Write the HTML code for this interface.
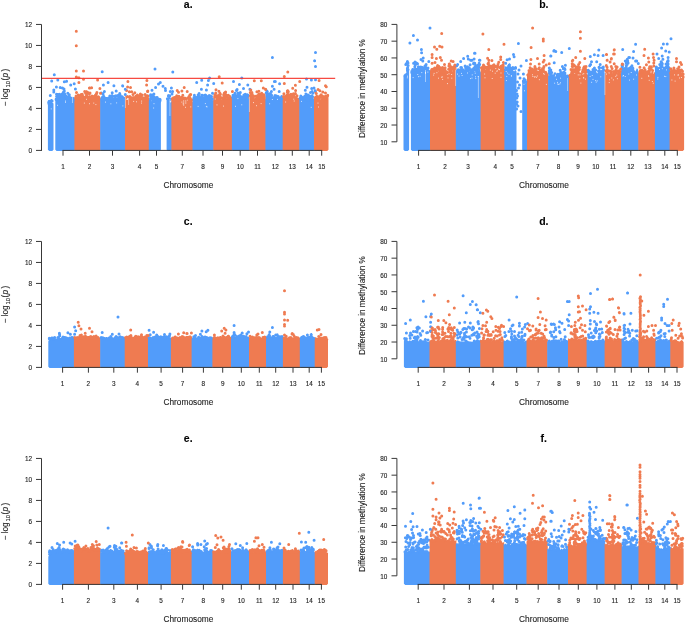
<!DOCTYPE html>
<html><head><meta charset="utf-8"><style>
html,body{margin:0;padding:0;background:#fff;}
svg{display:block;}
svg{will-change:transform;}
text{stroke:#1e1e1e;stroke-width:0.12px;}
</style></head><body>
<svg width="685" height="623" viewBox="0 0 685 623">
<path d="M49.2 150.9 L47.9 149.7 L47.9 102.3 L49.0 103.6 L50.1 104.5 L51.3 101.8 L52.4 102.4 L53.5 103.6 L53.5 149.7 L52.2 150.9Z" fill="#529cfa"/>
<path d="M56.6 150.9 L55.3 149.7 L55.3 100.7 L56.3 98.6 L57.4 97.7 L58.4 96.9 L59.4 96.7 L60.5 97.6 L61.5 96.5 L62.6 94.8 L63.6 93.7 L64.6 95.0 L65.7 96.4 L66.7 98.7 L67.7 97.6 L68.8 96.9 L69.8 97.3 L70.9 99.6 L71.9 100.6 L72.9 100.3 L74.0 98.5 L75.0 98.0 L75.0 149.7 L73.7 150.9Z" fill="#529cfa"/>
<path d="M75.7 150.9 L74.4 149.7 L74.4 96.9 L75.4 98.6 L76.4 97.5 L77.4 97.8 L78.5 98.3 L79.5 97.6 L80.5 98.3 L81.5 98.8 L82.5 96.8 L83.5 97.2 L84.6 98.9 L85.6 98.4 L86.6 98.1 L87.6 98.7 L88.6 98.1 L89.6 97.7 L90.6 97.6 L91.7 97.7 L92.7 97.8 L93.7 99.3 L94.7 98.4 L95.7 97.1 L96.7 97.5 L97.8 98.4 L98.8 97.4 L99.8 98.0 L100.8 97.8 L100.8 149.7 L99.5 150.9Z" fill="#ef7b51"/>
<path d="M101.5 150.9 L100.2 149.7 L100.2 98.4 L101.2 98.0 L102.2 99.8 L103.2 99.4 L104.3 97.0 L105.3 97.0 L106.3 99.4 L107.3 98.9 L108.3 98.1 L109.3 98.7 L110.4 98.7 L111.4 97.2 L112.4 97.8 L113.4 98.8 L114.4 98.7 L115.4 96.9 L116.5 98.2 L117.5 98.9 L118.5 97.1 L119.5 96.6 L120.5 97.3 L121.5 98.6 L122.6 99.3 L123.6 99.6 L124.6 98.9 L125.6 98.2 L125.6 149.7 L124.3 150.9Z" fill="#529cfa"/>
<path d="M126.3 150.9 L125.0 149.7 L125.0 98.2 L126.0 98.9 L127.0 99.9 L128.1 99.4 L129.1 98.5 L130.1 98.1 L131.1 98.1 L132.1 97.5 L133.1 98.2 L134.2 99.6 L135.2 98.5 L136.2 98.5 L137.2 98.0 L138.2 98.4 L139.2 98.8 L140.2 98.3 L141.3 98.1 L142.3 98.6 L143.3 99.9 L144.3 100.0 L145.3 98.5 L146.3 97.0 L147.4 96.6 L148.4 97.3 L149.4 98.8 L149.4 149.7 L148.1 150.9Z" fill="#ef7b51"/>
<path d="M150.1 150.9 L148.8 149.7 L148.8 100.9 L149.8 98.0 L150.8 99.0 L151.8 101.2 L152.8 100.4 L153.8 100.6 L154.9 100.9 L155.9 100.4 L156.9 98.7 L157.9 99.0 L158.9 99.8 L159.9 100.8 L160.9 99.2 L160.9 149.7 L159.6 150.9Z" fill="#529cfa"/>
<path d="M167.9 150.9 L166.6 149.7 L166.6 100.2 L167.7 99.9 L168.8 98.7 L169.8 101.4 L170.9 102.8 L172.0 100.1 L172.0 149.7 L170.7 150.9Z" fill="#529cfa"/>
<path d="M172.7 150.9 L171.4 149.7 L171.4 99.0 L172.4 99.9 L173.5 101.3 L174.5 101.1 L175.5 100.0 L176.6 98.9 L177.6 98.6 L178.6 100.4 L179.7 100.8 L180.7 99.9 L181.7 100.0 L182.8 99.8 L183.8 99.6 L184.8 98.8 L185.9 99.8 L186.9 100.6 L187.9 100.4 L189.0 99.2 L190.0 99.0 L191.0 100.3 L192.1 102.3 L193.1 100.8 L193.1 149.7 L191.8 150.9Z" fill="#ef7b51"/>
<path d="M193.8 150.9 L192.5 149.7 L192.5 98.0 L193.5 100.2 L194.5 99.9 L195.6 97.9 L196.6 98.7 L197.6 99.3 L198.6 98.2 L199.6 97.7 L200.7 97.6 L201.7 99.2 L202.7 99.5 L203.7 98.7 L204.7 98.2 L205.7 99.5 L206.8 99.9 L207.8 98.6 L208.8 98.9 L209.8 99.6 L210.8 99.1 L211.9 98.5 L212.9 100.6 L213.9 99.4 L213.9 149.7 L212.6 150.9Z" fill="#529cfa"/>
<path d="M214.6 150.9 L213.3 149.7 L213.3 98.2 L214.3 97.0 L215.3 96.8 L216.3 97.0 L217.3 97.8 L218.4 97.8 L219.4 96.7 L220.4 97.3 L221.4 99.3 L222.4 99.1 L223.4 97.2 L224.4 96.7 L225.4 96.2 L226.4 98.2 L227.4 98.9 L228.5 98.0 L229.5 97.6 L230.5 97.3 L231.5 97.3 L232.5 97.5 L232.5 149.7 L231.2 150.9Z" fill="#ef7b51"/>
<path d="M233.2 150.9 L231.9 149.7 L231.9 98.8 L233.0 97.0 L234.0 96.7 L235.1 97.4 L236.1 99.1 L237.2 97.8 L238.2 96.5 L239.3 95.9 L240.3 97.0 L241.4 96.9 L242.4 96.7 L243.5 98.8 L244.5 98.9 L245.6 95.8 L246.6 96.0 L247.7 98.1 L248.7 99.0 L249.8 98.1 L249.8 149.7 L248.5 150.9Z" fill="#529cfa"/>
<path d="M250.5 150.9 L249.2 149.7 L249.2 99.0 L250.2 98.2 L251.3 97.4 L252.3 95.6 L253.4 96.3 L254.4 98.2 L255.5 97.7 L256.6 97.2 L257.6 98.2 L258.6 98.2 L259.7 97.1 L260.8 95.3 L261.8 95.9 L262.9 97.3 L263.9 97.3 L264.9 97.9 L266.0 99.5 L266.0 149.7 L264.7 150.9Z" fill="#ef7b51"/>
<path d="M266.7 150.9 L265.4 149.7 L265.4 96.0 L266.5 95.9 L267.5 95.9 L268.6 96.3 L269.6 96.8 L270.7 96.9 L271.7 96.7 L272.8 97.7 L273.8 98.2 L274.9 97.0 L275.9 96.5 L277.0 96.8 L278.0 98.3 L279.1 99.5 L280.1 99.0 L281.2 98.4 L282.2 98.4 L283.3 97.2 L283.3 149.7 L282.0 150.9Z" fill="#529cfa"/>
<path d="M284.0 150.9 L282.7 149.7 L282.7 96.1 L283.7 97.7 L284.7 97.7 L285.7 97.6 L286.7 96.7 L287.8 95.3 L288.8 98.2 L289.8 97.9 L290.8 95.7 L291.8 97.2 L292.8 97.2 L293.8 96.9 L294.8 98.3 L295.9 96.5 L296.9 95.2 L297.9 97.9 L298.9 97.8 L299.9 96.0 L299.9 149.7 L298.6 150.9Z" fill="#ef7b51"/>
<path d="M300.6 150.9 L299.3 149.7 L299.3 96.8 L300.3 97.7 L301.3 98.8 L302.4 98.0 L303.4 99.2 L304.4 98.6 L305.4 97.8 L306.4 97.7 L307.5 99.4 L308.5 99.2 L309.5 98.2 L310.5 98.6 L311.5 98.9 L312.6 97.4 L313.6 98.3 L314.6 100.7 L314.6 149.7 L313.3 150.9Z" fill="#529cfa"/>
<path d="M315.3 150.9 L314.0 149.7 L314.0 99.1 L315.0 98.2 L316.1 97.0 L317.1 96.4 L318.1 98.0 L319.2 99.3 L320.2 99.6 L321.2 98.2 L322.3 97.6 L323.3 98.5 L324.4 99.2 L325.4 98.9 L326.4 96.7 L327.5 95.8 L328.5 98.2 L328.5 149.7 L327.2 150.9Z" fill="#ef7b51"/>
<path d="M48.9 103.6h0M51.5 101.1h0M52.1 101.0h0M48.7 102.3h0M49.4 103.6h0M50.5 103.7h0M49.5 104.3h0M51.5 100.4h0M50.1 103.3h0M51.4 100.5h0M50.6 102.9h0M49.3 104.2h0M49.2 101.3h0M50.2 104.4h0M52.0 100.8h0" stroke="#529cfa" stroke-width="3.00" stroke-linecap="round" fill="none"/>
<path d="M51.2 108.9h0" stroke="#ffffff" stroke-width="0.90" stroke-linecap="round" fill="none"/>
<path d="M57.3 96.7h0M56.2 99.0h0M69.3 94.7h0M64.3 91.0h0M64.0 88.9h0M66.8 98.3h0M66.0 96.1h0M65.5 96.4h0M68.3 97.8h0M61.3 96.8h0M60.8 97.2h0M69.3 95.0h0M56.6 96.6h0M57.5 94.4h0M63.2 92.8h0M69.4 97.9h0M61.2 95.0h0M57.8 95.1h0M71.7 100.1h0M71.5 100.3h0M68.5 96.6h0M63.4 94.7h0M63.3 95.0h0M70.9 98.1h0M60.5 97.1h0M66.5 97.4h0M62.1 94.1h0M59.5 94.3h0M64.7 94.0h0M66.5 96.6h0M56.2 99.0h0M62.6 94.4h0M69.8 97.3h0M72.8 98.3h0M64.7 94.9h0M56.1 99.6h0M64.2 93.0h0M71.3 98.9h0M63.3 92.6h0M72.6 100.2h0M70.4 99.4h0M58.1 94.7h0M63.7 91.7h0M56.5 94.2h0M71.1 100.4h0M73.0 100.1h0M68.1 97.2h0M57.0 97.7h0M59.4 96.3h0M69.3 97.9h0M67.8 93.3h0M66.6 97.8h0M72.9 100.0h0" stroke="#529cfa" stroke-width="3.00" stroke-linecap="round" fill="none"/>
<path d="M57.4 105.3h0M65.4 102.3h0M65.6 101.1h0" stroke="#ffffff" stroke-width="0.90" stroke-linecap="round" fill="none"/>
<path d="M93.7 96.4h0M85.1 98.7h0M91.6 87.7h0M85.6 93.2h0M76.1 96.8h0M80.1 96.3h0M90.0 93.1h0M87.9 92.6h0M83.1 97.3h0M86.5 94.2h0M92.3 97.6h0M81.2 98.4h0M86.6 92.1h0M81.8 98.9h0M96.9 92.6h0M93.9 99.5h0M81.5 98.7h0M97.3 98.7h0M78.3 97.9h0M94.3 98.8h0M99.0 97.7h0M79.8 95.9h0M82.3 94.3h0M81.1 94.5h0M83.7 97.0h0M84.5 98.9h0M87.8 97.2h0M79.0 97.8h0M88.6 97.7h0M98.8 97.3h0M89.4 94.1h0M98.7 98.3h0M84.6 98.6h0M97.4 99.0h0M79.3 96.6h0M98.4 96.8h0M82.5 95.6h0M78.3 95.1h0M79.7 97.4h0M76.5 98.3h0M75.6 97.8h0M86.5 95.9h0M89.8 98.0h0M88.9 98.5h0M79.0 97.9h0M91.0 98.8h0M98.4 98.6h0M79.9 98.3h0M91.7 97.7h0M86.5 96.8h0M76.1 96.1h0M87.3 97.6h0M94.2 99.3h0M86.6 95.3h0M89.8 97.0h0M90.2 98.1h0M80.9 98.7h0M85.3 99.1h0M98.0 97.7h0M96.3 96.2h0M92.0 96.0h0M96.3 97.9h0M88.9 96.9h0M78.9 98.5h0M79.8 96.5h0M93.9 98.3h0M86.1 96.5h0M81.3 97.8h0M98.5 97.8h0M87.1 97.1h0M95.5 95.1h0" stroke="#ef7b51" stroke-width="3.00" stroke-linecap="round" fill="none"/>
<path d="M95.9 104.6h0M84.3 103.1h0M86.5 99.3h0M89.4 103.7h0M93.8 103.1h0" stroke="#ffffff" stroke-width="0.90" stroke-linecap="round" fill="none"/>
<path d="M103.1 94.1h0M114.9 97.7h0M119.1 95.0h0M120.2 95.3h0M117.8 95.6h0M109.0 98.6h0M121.8 99.3h0M113.9 85.7h0M109.1 98.0h0M109.9 98.0h0M118.4 97.9h0M102.7 97.3h0M107.0 99.8h0M101.4 93.1h0M109.8 96.0h0M112.2 92.8h0M102.6 97.1h0M120.2 97.2h0M111.1 96.9h0M108.5 97.9h0M118.1 99.1h0M102.0 99.5h0M119.3 96.8h0M102.5 99.8h0M107.5 98.6h0M119.0 97.3h0M105.2 98.3h0M110.7 97.6h0M112.1 96.4h0M119.7 93.5h0M124.0 98.3h0M122.3 96.8h0M117.1 100.1h0M114.5 96.3h0M109.9 96.5h0M122.0 99.4h0M120.7 98.7h0M112.2 95.7h0M119.4 97.4h0M121.3 98.5h0M106.0 99.6h0M113.5 99.2h0M106.6 98.4h0M104.4 91.5h0M122.8 98.6h0M113.1 99.0h0M113.8 99.4h0M121.2 99.2h0M122.2 98.9h0M115.9 95.8h0M110.5 97.0h0M113.5 99.5h0M122.6 99.5h0M110.8 97.8h0M110.1 96.9h0M103.6 97.8h0M118.8 97.3h0M105.1 97.9h0M117.1 99.7h0M122.3 97.9h0M106.8 98.6h0M123.1 98.6h0M114.1 98.7h0M115.8 98.0h0M103.7 96.3h0M102.1 97.7h0M121.5 98.6h0M111.8 95.7h0" stroke="#529cfa" stroke-width="3.00" stroke-linecap="round" fill="none"/>
<path d="M122.9 105.9h0M110.9 103.8h0M116.7 102.9h0M105.5 102.1h0" stroke="#ffffff" stroke-width="0.90" stroke-linecap="round" fill="none"/>
<path d="M134.6 99.5h0M138.8 98.4h0M136.5 97.8h0M141.3 98.2h0M147.3 96.9h0M127.3 96.6h0M147.6 91.4h0M144.1 100.0h0M130.2 97.3h0M131.1 97.5h0M132.6 97.7h0M133.0 94.5h0M144.3 100.0h0M137.4 94.9h0M126.6 90.6h0M138.4 97.1h0M134.8 92.8h0M137.5 97.1h0M147.0 96.5h0M136.1 96.0h0M143.1 98.7h0M144.7 98.4h0M137.0 96.7h0M148.0 95.9h0M143.7 100.3h0M133.9 97.5h0M145.4 97.5h0M143.2 100.1h0M146.7 96.6h0M137.7 96.4h0M146.7 95.9h0M141.9 97.7h0M141.1 97.3h0M142.1 95.0h0M134.0 98.0h0M145.7 95.6h0M134.8 99.7h0M137.6 96.6h0M142.8 97.7h0M129.8 96.6h0M129.4 97.0h0M142.5 98.7h0M133.9 99.5h0M145.7 97.0h0M147.7 96.1h0M132.2 98.3h0M146.5 95.7h0M146.6 97.3h0M146.5 96.3h0M133.4 98.9h0M139.5 96.1h0M134.5 99.4h0M145.1 94.5h0M144.2 100.4h0M142.3 98.2h0M136.0 97.5h0M147.2 95.8h0M126.1 97.4h0M142.3 98.9h0M138.9 97.5h0M142.8 98.6h0M144.9 98.0h0M137.7 96.6h0M140.6 95.8h0M129.5 98.7h0M134.8 99.1h0" stroke="#ef7b51" stroke-width="3.00" stroke-linecap="round" fill="none"/>
<path d="M141.4 103.1h0M136.5 101.8h0M141.7 101.1h0M133.7 101.4h0" stroke="#ffffff" stroke-width="0.90" stroke-linecap="round" fill="none"/>
<path d="M154.2 97.0h0M155.2 99.8h0M158.3 99.1h0M159.8 99.2h0M150.6 94.8h0M152.0 90.2h0M156.8 99.3h0M159.7 100.3h0M159.6 101.5h0M152.7 100.0h0M153.1 99.7h0M150.7 96.2h0M152.8 98.8h0M156.7 97.5h0M160.1 100.6h0M155.2 100.5h0M157.1 98.0h0M160.1 99.6h0M150.6 98.7h0M159.6 100.7h0M151.1 97.1h0M154.9 100.9h0M153.4 96.3h0M154.1 100.1h0M150.7 97.0h0M153.2 100.5h0M156.4 97.7h0M150.5 95.6h0M158.4 100.1h0M157.2 97.6h0M159.6 100.5h0M154.5 101.2h0M153.5 99.1h0" stroke="#529cfa" stroke-width="3.00" stroke-linecap="round" fill="none"/>
<path d="M154.0 103.7h0M153.7 108.0h0" stroke="#ffffff" stroke-width="0.90" stroke-linecap="round" fill="none"/>
<path d="M167.4 98.8h0M169.8 95.8h0M170.3 91.5h0M168.0 99.4h0M169.5 98.6h0M168.0 99.4h0M169.6 99.6h0M169.5 100.1h0M169.6 99.2h0M169.2 98.9h0M168.5 95.5h0M168.4 96.0h0" stroke="#529cfa" stroke-width="3.00" stroke-linecap="round" fill="none"/>
<path d="M182.1 97.1h0M188.8 98.6h0M175.3 97.2h0M179.0 97.0h0M188.7 99.3h0M179.4 100.1h0M178.5 92.3h0M176.1 98.4h0M175.9 99.6h0M174.3 101.1h0M187.6 98.1h0M178.9 96.3h0M190.2 98.4h0M185.0 99.1h0M177.9 98.7h0M181.2 97.6h0M179.4 98.6h0M179.4 98.3h0M185.7 100.4h0M176.7 95.8h0M177.0 99.7h0M182.0 98.9h0M178.3 98.5h0M176.1 98.8h0M189.8 97.4h0M184.9 99.3h0M179.1 99.0h0M182.8 95.2h0M181.8 98.0h0M185.6 99.5h0M182.9 98.7h0M173.5 97.8h0M175.8 98.8h0M178.0 99.9h0M179.7 98.9h0M184.8 97.9h0M172.3 98.9h0M191.7 99.7h0M173.6 100.5h0M181.4 98.3h0M175.1 99.1h0M179.8 98.9h0M178.3 99.3h0M191.2 100.9h0M190.7 99.3h0M172.4 98.5h0M189.8 97.7h0M189.0 96.6h0M182.2 99.2h0M173.5 100.7h0M172.3 99.3h0M180.0 100.3h0M174.3 100.4h0M189.3 98.6h0M189.9 95.1h0M188.8 99.3h0M179.2 100.3h0M177.0 97.1h0" stroke="#ef7b51" stroke-width="3.00" stroke-linecap="round" fill="none"/>
<path d="M190.8 106.9h0M181.9 102.1h0M185.5 107.3h0M183.1 103.9h0" stroke="#ffffff" stroke-width="0.90" stroke-linecap="round" fill="none"/>
<path d="M198.7 95.1h0M194.4 95.2h0M198.2 97.7h0M209.2 98.4h0M206.4 90.1h0M205.4 97.4h0M196.7 82.6h0M199.1 93.5h0M203.9 99.1h0M200.8 97.7h0M205.1 97.5h0M203.6 97.8h0M198.1 94.9h0M202.6 95.2h0M210.5 96.1h0M205.8 95.7h0M196.3 98.5h0M206.1 95.8h0M206.1 98.9h0M211.5 96.5h0M209.8 97.1h0M203.4 99.9h0M205.5 96.1h0M198.0 97.1h0M203.7 98.9h0M193.9 99.0h0M194.0 97.4h0M195.7 97.8h0M207.0 99.4h0M200.0 97.4h0M196.6 97.5h0M194.0 99.9h0M202.1 98.6h0M208.5 96.2h0M201.9 99.2h0M212.3 98.9h0M197.9 97.4h0M195.9 97.9h0M201.4 97.4h0M206.7 98.4h0M195.3 98.0h0M202.6 99.4h0M209.2 95.6h0M211.1 98.9h0M201.7 95.3h0M196.6 98.9h0M197.4 99.6h0M208.9 96.5h0M199.5 97.7h0M194.8 98.7h0M208.6 98.1h0M200.9 98.4h0M202.5 97.3h0M198.5 99.6h0M207.8 98.0h0M202.6 98.1h0M209.2 97.4h0" stroke="#529cfa" stroke-width="3.00" stroke-linecap="round" fill="none"/>
<path d="M205.3 103.6h0M198.1 106.4h0M207.0 106.9h0M206.3 106.4h0" stroke="#ffffff" stroke-width="0.90" stroke-linecap="round" fill="none"/>
<path d="M223.6 97.7h0M230.5 97.5h0M225.0 96.2h0M220.3 93.9h0M229.9 97.0h0M217.5 98.3h0M222.5 98.3h0M214.6 97.1h0M223.7 94.4h0M225.2 92.9h0M218.9 96.7h0M226.0 95.1h0M224.2 96.8h0M215.8 93.4h0M216.2 96.0h0M223.8 95.7h0M226.5 96.1h0M218.8 97.1h0M225.7 97.3h0M219.9 93.3h0M217.7 97.5h0M227.8 98.2h0M214.8 94.8h0M219.5 95.5h0M218.7 97.2h0M217.4 96.3h0M229.7 96.5h0M220.0 96.3h0M228.2 95.3h0M217.7 98.3h0M214.8 96.3h0M216.9 97.7h0M219.0 96.6h0M229.6 96.2h0M224.0 96.8h0M230.6 97.7h0M215.8 96.5h0M216.9 98.6h0M220.4 94.2h0M218.0 96.7h0M223.0 98.4h0M224.4 93.1h0M225.7 96.5h0M222.7 98.1h0M220.7 97.6h0M215.7 92.9h0M219.2 96.8h0M215.6 95.6h0M215.4 96.4h0M224.1 94.8h0M218.2 95.4h0" stroke="#ef7b51" stroke-width="3.00" stroke-linecap="round" fill="none"/>
<path d="M217.0 104.9h0M223.4 106.1h0M215.2 99.0h0" stroke="#ffffff" stroke-width="0.90" stroke-linecap="round" fill="none"/>
<path d="M238.7 93.5h0M244.1 97.7h0M235.3 98.7h0M237.3 98.6h0M234.8 95.3h0M240.3 92.4h0M234.7 97.1h0M234.7 95.9h0M234.9 93.3h0M241.8 78.0h0M237.1 89.5h0M237.9 93.0h0M245.9 95.3h0M237.7 95.3h0M240.6 98.0h0M242.8 98.3h0M244.3 99.1h0M237.2 96.1h0M235.4 98.6h0M245.2 97.0h0M247.7 96.5h0M246.9 96.1h0M243.7 96.1h0M241.3 96.7h0M238.9 95.3h0M237.7 96.9h0M235.0 94.7h0M234.2 94.9h0M234.6 95.8h0M245.3 94.3h0M243.9 95.0h0M248.4 97.6h0M240.3 96.5h0M247.0 97.1h0M239.5 97.1h0M242.8 97.1h0M237.3 97.1h0M244.7 98.2h0M245.7 96.2h0M235.2 97.7h0M242.9 97.7h0M239.5 94.9h0M233.0 95.2h0M232.7 97.3h0M247.3 94.8h0M232.9 97.5h0M247.7 94.9h0" stroke="#529cfa" stroke-width="3.00" stroke-linecap="round" fill="none"/>
<path d="M237.9 98.6h0M241.8 104.8h0M235.4 106.3h0" stroke="#ffffff" stroke-width="0.90" stroke-linecap="round" fill="none"/>
<path d="M258.2 95.5h0M250.3 92.6h0M259.2 95.4h0M262.3 96.4h0M261.7 93.2h0M251.9 92.6h0M258.7 94.2h0M262.1 94.1h0M258.9 91.2h0M252.6 95.5h0M259.5 94.6h0M264.1 94.7h0M257.9 98.7h0M253.5 96.7h0M264.3 97.8h0M257.6 96.7h0M250.9 97.2h0M253.6 96.6h0M256.9 96.0h0M252.1 94.1h0M250.0 97.8h0M253.2 96.6h0M260.6 93.9h0M264.2 95.8h0M254.0 96.5h0M253.6 97.0h0M253.9 96.8h0M260.0 95.3h0M264.3 97.9h0M253.5 96.8h0M263.5 96.6h0M253.3 95.8h0M251.0 93.7h0M261.3 95.3h0M258.3 98.4h0M257.5 97.9h0M253.2 96.1h0M258.6 97.0h0M251.8 96.3h0M261.2 96.0h0M263.5 96.9h0M255.8 96.3h0M257.0 97.9h0M250.4 95.4h0" stroke="#ef7b51" stroke-width="3.00" stroke-linecap="round" fill="none"/>
<path d="M261.1 103.6h0M253.4 102.6h0M256.5 105.7h0" stroke="#ffffff" stroke-width="0.90" stroke-linecap="round" fill="none"/>
<path d="M272.4 86.3h0M277.3 97.0h0M275.0 97.2h0M266.9 90.9h0M281.7 96.4h0M276.2 95.9h0M267.6 95.2h0M267.3 91.7h0M268.7 94.6h0M267.0 95.5h0M271.6 95.3h0M270.8 94.4h0M275.7 96.2h0M275.0 95.6h0M278.9 98.6h0M280.9 97.7h0M281.0 97.6h0M277.2 96.7h0M266.9 95.6h0M270.2 93.6h0M279.1 97.9h0M273.8 98.5h0M280.9 97.7h0M269.9 94.8h0M274.7 96.5h0M270.2 96.4h0M279.0 98.8h0M266.8 94.3h0M270.5 94.8h0M269.0 95.0h0M281.7 98.6h0M275.1 97.2h0M274.8 96.3h0M272.8 98.5h0M272.5 97.7h0M276.6 95.9h0M281.1 98.7h0M267.8 95.5h0M269.3 94.9h0M279.9 98.9h0M273.6 98.3h0M278.2 96.6h0M279.9 99.7h0M266.3 92.7h0M267.9 93.7h0M270.9 94.2h0M274.9 96.6h0" stroke="#529cfa" stroke-width="3.00" stroke-linecap="round" fill="none"/>
<path d="M269.7 103.8h0M277.4 99.4h0M272.3 99.5h0" stroke="#ffffff" stroke-width="0.90" stroke-linecap="round" fill="none"/>
<path d="M285.8 98.1h0M283.8 96.3h0M291.2 95.6h0M288.7 96.0h0M286.8 96.1h0M291.8 95.7h0M295.4 93.6h0M293.7 95.1h0M287.9 92.4h0M294.5 97.8h0M286.6 96.0h0M288.6 96.8h0M288.9 97.1h0M283.9 93.7h0M284.9 97.6h0M294.0 96.2h0M287.3 92.3h0M292.7 97.0h0M292.8 97.3h0M286.3 96.1h0M292.5 95.7h0M293.4 93.8h0M292.7 97.8h0M289.7 95.6h0M287.2 96.5h0M288.2 95.0h0M291.0 94.3h0M292.9 97.1h0M284.6 96.6h0M293.7 94.2h0M293.6 97.4h0M289.6 97.5h0M289.7 96.4h0M294.6 98.5h0M285.0 98.0h0M295.5 98.1h0M297.0 95.7h0M288.6 97.3h0M294.5 98.6h0M288.3 91.8h0M287.4 90.9h0M287.0 95.1h0M283.6 96.8h0M289.1 97.7h0M287.8 93.5h0M289.1 95.1h0" stroke="#ef7b51" stroke-width="3.00" stroke-linecap="round" fill="none"/>
<path d="M293.8 99.2h0M294.2 101.0h0M285.7 102.0h0" stroke="#ffffff" stroke-width="0.90" stroke-linecap="round" fill="none"/>
<path d="M306.9 97.4h0M304.0 97.7h0M305.9 96.6h0M300.7 98.8h0M312.1 91.6h0M309.0 98.7h0M307.3 94.9h0M310.5 98.2h0M313.1 93.1h0M308.1 95.0h0M300.9 99.1h0M308.9 98.4h0M309.2 96.9h0M311.6 98.8h0M312.6 96.8h0M306.0 96.6h0M306.7 98.2h0M302.9 97.7h0M300.4 98.2h0M301.7 96.9h0M308.0 100.1h0M305.7 95.9h0M311.7 97.6h0M300.8 96.0h0M305.9 93.9h0M311.9 95.8h0M309.1 98.5h0M302.6 98.2h0M304.8 98.8h0M311.8 97.2h0M310.9 98.1h0M300.1 98.5h0M309.6 97.6h0M309.0 96.8h0M304.5 96.6h0M306.2 96.4h0M309.2 95.7h0M310.4 97.8h0M304.1 98.3h0M303.6 98.7h0" stroke="#529cfa" stroke-width="3.00" stroke-linecap="round" fill="none"/>
<path d="M301.4 101.4h0M311.2 107.3h0" stroke="#ffffff" stroke-width="0.90" stroke-linecap="round" fill="none"/>
<path d="M315.4 91.4h0M316.1 97.4h0M315.9 98.4h0M319.7 96.0h0M325.3 96.7h0M325.5 98.3h0M316.3 93.4h0M325.4 97.6h0M316.8 96.2h0M322.7 96.3h0M320.1 96.2h0M325.3 97.8h0M315.6 98.6h0M322.4 96.8h0M315.4 97.6h0M317.8 98.1h0M326.7 96.2h0M317.0 97.7h0M323.7 99.0h0M327.7 95.3h0M321.4 97.0h0M321.3 95.9h0M325.0 99.2h0M315.2 98.6h0M321.2 95.1h0M327.5 96.3h0M316.9 97.8h0M316.1 96.9h0M325.3 97.7h0M325.4 96.2h0M319.2 98.4h0M322.8 96.6h0M318.5 98.7h0M321.3 97.2h0M315.9 98.2h0M324.8 99.7h0M315.3 97.4h0M325.1 99.1h0M324.3 98.8h0M321.1 94.8h0" stroke="#ef7b51" stroke-width="3.00" stroke-linecap="round" fill="none"/>
<path d="M318.0 103.1h0M318.6 107.0h0" stroke="#ffffff" stroke-width="0.90" stroke-linecap="round" fill="none"/>
<path d="M72.5 96.0V103.0M125.4 97.0V108.0M128.6 98.0V105.0M169.9 99.0V116.0M183.7 100.0V106.0M185.8 100.0V104.0M249.4 97.0V112.0" stroke="#fff" stroke-width="0.7" stroke-opacity="0.65"/>
<path d="M54.3 74.8h0M51.7 81.0h0M57.8 80.1h0M64.3 81.8h0M66.6 81.3h0M70.7 84.9h0M74.2 83.7h0M56.4 86.9h0M60.2 87.4h0M62.5 88.0h0M53.8 90.1h0M53.8 92.1h0M75.4 89.0h0M50.3 95.6h0M50.3 102.0h0M102.2 71.7h0M108.1 82.5h0M103.4 85.1h0M122.7 85.9h0M116.2 91.0h0M155.0 69.1h0M172.8 72.0h0M122.6 85.7h0M125.3 89.2h0M125.3 94.5h0M158.5 83.9h0M160.3 82.4h0M155.6 87.4h0M163.0 86.3h0M165.3 88.6h0M165.5 90.6h0M171.4 88.0h0M172.6 91.5h0M172.0 93.9h0M153.9 93.9h0M152.1 95.0h0M201.7 80.2h0M209.6 77.9h0M208.4 80.4h0M207.6 84.9h0M213.7 83.4h0M201.4 89.2h0M233.5 81.6h0M239.4 84.5h0M247.8 85.1h0M243.5 88.4h0M236.5 90.6h0M249.9 89.2h0M274.4 81.6h0M205.3 95.0h0M212.5 93.3h0M272.4 57.5h0M315.5 52.5h0M314.6 60.7h0M315.5 66.6h0M275.3 81.5h0M279.6 83.8h0M306.5 79.1h0M311.4 80.1h0M315.5 79.7h0M279.2 91.4h0M274.1 89.3h0M271.4 91.4h0M307.0 87.3h0M305.3 90.2h0M311.7 88.5h0M314.0 87.9h0M315.2 90.8h0M310.5 92.6h0M267.9 97.8h0" stroke="#529cfa" stroke-width="3.00" stroke-linecap="round" fill="none"/>
<path d="M76.3 31.3h0M76.3 45.7h0M76.3 70.9h0M83.5 71.1h0M76.3 76.9h0M78.9 77.8h0M83.5 79.3h0M78.9 82.5h0M97.6 80.1h0M89.4 88.0h0M99.9 88.6h0M100.5 93.3h0M76.5 92.5h0M84.7 91.5h0M86.5 91.8h0M96.4 93.9h0M89.8 87.9h0M127.9 81.6h0M146.9 80.4h0M146.6 85.1h0M127.6 87.1h0M130.5 87.4h0M147.8 91.0h0M129.3 91.8h0M131.7 91.8h0M140.4 93.9h0M184.2 87.4h0M177.2 90.6h0M187.2 91.5h0M190.7 94.5h0M181.9 91.0h0M219.2 76.7h0M222.2 83.0h0M216.0 89.8h0M218.9 91.3h0M225.6 92.1h0M232.4 91.5h0M254.3 80.8h0M261.3 80.8h0M250.8 90.1h0M263.3 88.0h0M265.7 89.2h0M256.9 91.8h0M287.8 71.9h0M284.3 76.4h0M284.3 83.6h0M299.7 81.5h0M295.4 85.3h0M292.7 88.2h0M287.8 90.8h0M295.6 90.5h0M319.1 80.6h0M325.5 85.8h0M326.3 86.7h0M318.1 89.6h0M319.9 90.8h0M322.8 92.0h0M325.5 93.1h0M265.6 89.6h0" stroke="#ef7b51" stroke-width="3.00" stroke-linecap="round" fill="none"/>
<path d="M41.2 78.4 H335.2" stroke="#f53b32" stroke-width="1.2" stroke-opacity="0.92"/>
<g stroke="#383838" stroke-width="1.0" fill="none">
<path d="M41.5 24.45 V150.90"/>
<path d="M36 150.40 H41.5"/>
<path d="M36 129.41 H41.5"/>
<path d="M36 108.42 H41.5"/>
<path d="M36 87.43 H41.5"/>
<path d="M36 66.43 H41.5"/>
<path d="M36 45.44 H41.5"/>
<path d="M36 24.45 H41.5"/>
<path d="M62.5 150.40 H322.2"/>
<path d="M63.0 150.40 V155.70"/>
<path d="M89.5 150.40 V155.70"/>
<path d="M112.5 150.40 V155.70"/>
<path d="M139.6 150.40 V155.70"/>
<path d="M156.5 150.40 V155.70"/>
<path d="M182.3 150.40 V155.70"/>
<path d="M203.0 150.40 V155.70"/>
<path d="M222.5 150.40 V155.70"/>
<path d="M240.2 150.40 V155.70"/>
<path d="M257.5 150.40 V155.70"/>
<path d="M275.2 150.40 V155.70"/>
<path d="M292.3 150.40 V155.70"/>
<path d="M309.2 150.40 V155.70"/>
<path d="M321.7 150.40 V155.70"/>
</g>
<g font-family="Liberation Sans, sans-serif" font-size="6.4" fill="#1e1e1e" text-anchor="end">
<text x="32.0" y="153.30">0</text>
<text x="32.0" y="132.31">2</text>
<text x="32.0" y="111.32">4</text>
<text x="32.0" y="90.33">6</text>
<text x="32.0" y="69.33">8</text>
<text x="32.0" y="48.34">10</text>
<text x="32.0" y="27.35">12</text>
</g>
<g font-family="Liberation Sans, sans-serif" font-size="6.4" fill="#1e1e1e" text-anchor="middle">
<text x="63.0" y="168.80">1</text>
<text x="89.5" y="168.80">2</text>
<text x="112.5" y="168.80">3</text>
<text x="139.6" y="168.80">4</text>
<text x="156.5" y="168.80">5</text>
<text x="182.3" y="168.80">7</text>
<text x="203.0" y="168.80">8</text>
<text x="222.5" y="168.80">9</text>
<text x="240.2" y="168.80">10</text>
<text x="257.5" y="168.80">11</text>
<text x="275.2" y="168.80">12</text>
<text x="292.3" y="168.80">13</text>
<text x="309.2" y="168.80">14</text>
<text x="321.7" y="168.80">15</text>
</g>
<text x="188.4" y="188.3" font-family="Liberation Sans, sans-serif" font-size="8.3" fill="#1e1e1e" text-anchor="middle">Chromosome</text>
<g transform="translate(7.9 0.0) rotate(-90)" font-family="Liberation Sans, sans-serif" font-size="8.3" fill="#1e1e1e">
<text x="-106.1" y="0">−</text>
<text x="-99.4" y="0">log</text>
<text x="-87.6" y="1.9" font-size="5.9">10</text>
<text x="-80.4" y="0">(</text>
<text x="-77.4" y="0" font-style="italic">p</text>
<text x="-71.6" y="0">)</text>
</g>
<text x="188.2" y="8.1" font-family="Liberation Sans, sans-serif" font-weight="bold" font-size="10.5" fill="#000" text-anchor="middle">a.</text>
<path d="M404.8 150.9 L403.5 149.7 L403.5 74.6 L404.6 76.1 L405.7 73.9 L406.9 71.0 L408.0 69.5 L409.1 69.4 L409.1 149.7 L407.8 150.9Z" fill="#529cfa"/>
<path d="M412.2 150.9 L410.9 149.7 L410.9 72.1 L411.9 72.8 L413.0 69.3 L414.0 69.4 L415.0 71.0 L416.1 70.5 L417.1 68.0 L418.2 70.0 L419.2 69.8 L420.2 69.8 L421.3 68.3 L422.3 69.1 L423.3 69.6 L424.4 70.7 L425.4 70.9 L426.5 69.4 L427.5 70.2 L428.5 72.0 L429.6 70.1 L430.6 69.7 L430.6 149.7 L429.3 150.9Z" fill="#529cfa"/>
<path d="M431.3 150.9 L430.0 149.7 L430.0 67.9 L431.0 70.9 L432.0 70.1 L433.0 68.6 L434.1 69.0 L435.1 69.1 L436.1 67.9 L437.1 67.7 L438.1 71.0 L439.1 72.4 L440.2 72.6 L441.2 70.8 L442.2 72.8 L443.2 71.9 L444.2 69.4 L445.2 69.1 L446.2 74.5 L447.3 76.8 L448.3 72.5 L449.3 67.8 L450.3 68.6 L451.3 71.0 L452.3 71.5 L453.4 68.0 L454.4 68.1 L455.4 69.4 L456.4 67.4 L456.4 149.7 L455.1 150.9Z" fill="#ef7b51"/>
<path d="M457.1 150.9 L455.8 149.7 L455.8 70.7 L456.8 69.3 L457.8 68.7 L458.8 74.7 L459.9 74.4 L460.9 68.9 L461.9 69.5 L462.9 70.9 L463.9 71.7 L464.9 73.1 L466.0 70.9 L467.0 68.9 L468.0 72.3 L469.0 72.2 L470.0 70.0 L471.0 71.0 L472.1 71.6 L473.1 70.0 L474.1 71.2 L475.1 71.4 L476.1 72.1 L477.1 73.3 L478.2 71.2 L479.2 67.3 L480.2 71.1 L481.2 72.9 L481.2 149.7 L479.9 150.9Z" fill="#529cfa"/>
<path d="M481.9 150.9 L480.6 149.7 L480.6 68.5 L481.6 66.9 L482.6 67.7 L483.7 68.1 L484.7 68.3 L485.7 69.9 L486.7 70.0 L487.7 68.5 L488.7 65.3 L489.8 66.8 L490.8 69.5 L491.8 70.7 L492.8 68.9 L493.8 65.7 L494.8 67.8 L495.9 69.2 L496.9 67.7 L497.9 66.5 L498.9 69.4 L499.9 72.3 L500.9 69.9 L502.0 67.2 L503.0 66.4 L504.0 67.7 L505.0 69.1 L505.0 149.7 L503.7 150.9Z" fill="#ef7b51"/>
<path d="M505.7 150.9 L504.4 149.7 L504.4 72.5 L505.4 74.4 L506.4 73.7 L507.4 70.2 L508.4 67.2 L509.4 67.8 L510.5 69.9 L511.5 71.9 L512.5 73.4 L513.5 72.6 L514.5 70.8 L515.5 70.1 L516.5 71.5 L516.5 149.7 L515.2 150.9Z" fill="#529cfa"/>
<path d="M523.5 150.9 L522.2 149.7 L522.2 79.5 L523.3 80.7 L524.4 82.5 L525.4 83.4 L526.5 80.7 L527.6 81.4 L527.6 149.7 L526.3 150.9Z" fill="#529cfa"/>
<path d="M528.3 150.9 L527.0 149.7 L527.0 71.9 L528.0 75.4 L529.1 75.7 L530.1 71.8 L531.1 69.2 L532.2 69.5 L533.2 71.9 L534.2 72.7 L535.3 71.1 L536.3 71.1 L537.3 71.7 L538.4 73.1 L539.4 73.0 L540.4 73.1 L541.5 73.2 L542.5 71.7 L543.5 70.7 L544.6 70.3 L545.6 73.5 L546.6 75.1 L547.7 72.6 L548.7 68.9 L548.7 149.7 L547.4 150.9Z" fill="#ef7b51"/>
<path d="M549.4 150.9 L548.1 149.7 L548.1 75.6 L549.1 75.4 L550.1 73.0 L551.2 73.7 L552.2 75.3 L553.2 77.4 L554.2 77.4 L555.2 75.0 L556.3 73.8 L557.3 74.4 L558.3 75.5 L559.3 76.1 L560.3 74.4 L561.3 73.8 L562.4 74.4 L563.4 74.6 L564.4 73.7 L565.4 73.8 L566.4 76.4 L567.5 77.8 L568.5 76.9 L569.5 72.9 L569.5 149.7 L568.2 150.9Z" fill="#529cfa"/>
<path d="M570.2 150.9 L568.9 149.7 L568.9 74.5 L569.9 74.4 L570.9 69.8 L571.9 68.8 L572.9 70.2 L574.0 72.9 L575.0 74.1 L576.0 74.8 L577.0 72.6 L578.0 69.1 L579.0 69.0 L580.0 73.3 L581.0 76.6 L582.0 72.9 L583.0 70.1 L584.1 70.3 L585.1 70.0 L586.1 71.8 L587.1 74.5 L588.1 74.6 L588.1 149.7 L586.8 150.9Z" fill="#ef7b51"/>
<path d="M588.8 150.9 L587.5 149.7 L587.5 72.5 L588.6 71.9 L589.6 73.2 L590.7 74.3 L591.7 74.3 L592.8 73.4 L593.8 72.2 L594.9 73.5 L595.9 74.2 L597.0 74.6 L598.0 74.4 L599.1 73.8 L600.1 72.4 L601.2 72.6 L602.2 72.6 L603.3 72.6 L604.3 73.7 L605.4 73.6 L605.4 149.7 L604.1 150.9Z" fill="#529cfa"/>
<path d="M606.1 150.9 L604.8 149.7 L604.8 74.0 L605.8 71.0 L606.9 69.4 L607.9 72.7 L609.0 76.2 L610.0 72.5 L611.1 69.3 L612.1 71.0 L613.2 74.5 L614.2 74.3 L615.3 70.7 L616.4 70.3 L617.4 72.6 L618.5 74.7 L619.5 74.5 L620.6 72.2 L621.6 71.3 L621.6 149.7 L620.3 150.9Z" fill="#ef7b51"/>
<path d="M622.3 150.9 L621.0 149.7 L621.0 70.8 L622.1 67.2 L623.1 68.1 L624.2 72.2 L625.2 72.2 L626.3 66.9 L627.3 68.3 L628.4 71.8 L629.4 72.7 L630.5 70.1 L631.5 68.5 L632.6 68.6 L633.6 70.2 L634.7 72.3 L635.7 71.0 L636.8 68.2 L637.8 69.0 L638.9 73.5 L638.9 149.7 L637.6 150.9Z" fill="#529cfa"/>
<path d="M639.6 150.9 L638.3 149.7 L638.3 72.6 L639.3 73.0 L640.3 71.8 L641.3 70.6 L642.3 71.6 L643.4 72.3 L644.4 70.1 L645.4 70.8 L646.4 73.8 L647.4 72.2 L648.4 72.1 L649.4 72.3 L650.4 68.3 L651.5 69.8 L652.5 74.4 L653.5 73.9 L654.5 72.0 L655.5 72.4 L655.5 149.7 L654.2 150.9Z" fill="#ef7b51"/>
<path d="M656.2 150.9 L654.9 149.7 L654.9 65.6 L655.9 66.6 L656.9 68.3 L658.0 69.9 L659.0 67.6 L660.0 64.4 L661.0 63.6 L662.0 65.2 L663.1 69.0 L664.1 70.6 L665.1 69.5 L666.1 66.7 L667.1 63.8 L668.2 63.8 L669.2 65.7 L670.2 67.4 L670.2 149.7 L668.9 150.9Z" fill="#529cfa"/>
<path d="M670.9 150.9 L669.6 149.7 L669.6 72.6 L670.6 72.6 L671.7 72.6 L672.7 71.9 L673.7 69.9 L674.8 72.0 L675.8 74.4 L676.9 74.4 L677.9 72.1 L678.9 71.0 L680.0 69.7 L681.0 69.9 L682.0 73.8 L683.1 77.3 L684.1 73.7 L684.1 149.7 L682.8 150.9Z" fill="#ef7b51"/>
<path d="M405.5 75.0h0M407.6 67.5h0M407.4 68.6h0M408.0 63.0h0M406.5 63.4h0M405.4 75.2h0M408.1 65.4h0M407.5 70.5h0M405.3 75.9h0M407.4 69.1h0M405.2 76.5h0M408.0 69.5h0M405.6 75.0h0" stroke="#529cfa" stroke-width="3.00" stroke-linecap="round" fill="none"/>
<path d="M407.4 76.2h0M407.3 77.8h0" stroke="#ffffff" stroke-width="0.90" stroke-linecap="round" fill="none"/>
<path d="M420.4 67.5h0M426.1 64.6h0M425.6 68.7h0M428.4 71.0h0M425.5 66.6h0M415.0 62.0h0M423.5 70.0h0M424.9 66.6h0M420.9 69.2h0M423.2 57.9h0M427.7 69.7h0M423.4 69.6h0M420.9 68.4h0M420.9 68.6h0M419.9 68.3h0M416.4 63.0h0M428.0 68.1h0M425.5 67.1h0M424.9 69.6h0M416.5 69.2h0M420.7 67.1h0M427.7 70.2h0M418.3 68.3h0M424.0 70.3h0M419.1 70.0h0M411.8 71.2h0M414.8 66.7h0M421.7 68.0h0M412.6 70.2h0M421.9 67.3h0M427.0 68.4h0M418.4 66.7h0M414.9 68.9h0M412.7 69.5h0M426.0 69.6h0M427.2 68.5h0M423.6 67.9h0M411.8 72.5h0M424.1 70.3h0M426.9 69.7h0M420.3 68.3h0M425.3 70.4h0M414.0 69.6h0M413.6 63.2h0M412.6 69.7h0M425.9 65.2h0M416.0 70.6h0M427.7 70.8h0M413.0 69.6h0" stroke="#529cfa" stroke-width="3.00" stroke-linecap="round" fill="none"/>
<path d="M413.1 77.6h0M420.1 76.3h0M417.8 74.5h0M425.5 73.3h0M427.9 72.1h0M425.4 72.3h0M421.8 72.6h0M425.5 72.8h0M418.6 76.7h0" stroke="#ffffff" stroke-width="0.90" stroke-linecap="round" fill="none"/>
<path d="M450.7 68.9h0M446.3 73.2h0M444.1 69.3h0M440.6 67.8h0M451.1 70.1h0M449.4 64.0h0M442.4 69.4h0M449.2 64.0h0M442.6 67.6h0M449.5 64.9h0M434.5 69.5h0M437.2 67.1h0M453.0 69.1h0M448.9 66.1h0M437.6 65.6h0M439.7 72.1h0M446.6 72.1h0M449.6 65.1h0M444.5 64.5h0M450.7 68.2h0M441.8 71.9h0M432.0 69.9h0M448.6 69.2h0M438.7 66.3h0M451.2 61.1h0M435.3 69.9h0M440.6 71.4h0M450.0 65.5h0M451.0 68.0h0M445.4 70.7h0M433.8 69.3h0M434.3 69.0h0M445.0 68.4h0M441.8 71.9h0M447.8 72.6h0M440.0 72.3h0M453.4 68.6h0M440.8 70.3h0M434.6 67.9h0M436.7 68.2h0M440.4 71.6h0M440.2 69.4h0M451.2 70.4h0M438.2 68.9h0M443.3 69.7h0M451.2 67.1h0M432.2 69.2h0M435.0 70.6h0M444.2 70.5h0M441.8 72.2h0M445.1 67.8h0M446.4 72.8h0M439.3 73.2h0M445.0 69.9h0M437.8 69.0h0M454.4 67.2h0M449.7 66.7h0M453.9 66.8h0M434.9 70.1h0M436.7 67.8h0M454.8 66.9h0M446.8 76.1h0M439.5 70.4h0M434.5 68.4h0M455.0 67.6h0M443.1 72.0h0" stroke="#ef7b51" stroke-width="3.00" stroke-linecap="round" fill="none"/>
<path d="M442.1 76.7h0M447.4 83.6h0M433.7 75.1h0M436.9 72.7h0M448.0 77.9h0M449.0 73.8h0M441.9 77.5h0M451.7 74.5h0M434.1 73.4h0M442.7 79.4h0M438.6 78.2h0M451.8 78.2h0" stroke="#ffffff" stroke-width="0.90" stroke-linecap="round" fill="none"/>
<path d="M462.4 69.6h0M474.8 63.2h0M479.6 64.6h0M467.7 56.3h0M477.0 67.5h0M473.9 63.0h0M465.8 66.9h0M479.0 64.4h0M477.0 65.4h0M460.1 72.3h0M474.1 58.9h0M470.1 64.7h0M473.6 68.6h0M475.5 66.1h0M479.1 63.3h0M456.7 65.8h0M475.0 66.5h0M463.4 70.5h0M465.1 65.9h0M471.9 60.3h0M459.4 72.7h0M476.5 71.1h0M478.5 66.4h0M469.2 67.7h0M467.8 72.0h0M473.9 68.4h0M459.0 74.6h0M472.7 70.5h0M477.9 71.9h0M468.6 70.1h0M473.0 69.2h0M478.4 68.4h0M471.6 71.8h0M464.1 71.5h0M467.7 70.5h0M458.3 69.8h0M460.2 70.3h0M465.3 70.3h0M470.5 70.1h0M458.9 74.1h0M464.8 72.2h0M478.3 69.2h0M463.0 71.5h0M470.6 69.6h0M460.8 67.5h0M478.1 69.4h0M466.9 68.6h0M457.6 64.4h0M462.8 69.7h0M477.0 71.8h0M476.2 69.3h0M464.8 70.7h0M464.2 72.5h0M465.6 67.7h0M465.6 70.1h0M467.8 71.5h0M474.6 69.8h0M467.5 66.8h0M479.0 67.1h0M461.5 67.6h0M458.9 72.4h0M468.1 72.1h0M468.3 68.5h0" stroke="#529cfa" stroke-width="3.00" stroke-linecap="round" fill="none"/>
<path d="M472.0 78.1h0M475.2 73.2h0M478.2 76.5h0M467.5 73.0h0M475.8 78.6h0M459.0 76.0h0M475.5 76.8h0M461.4 73.4h0M470.6 78.6h0M472.2 74.9h0M462.1 75.5h0M457.5 74.1h0" stroke="#ffffff" stroke-width="0.90" stroke-linecap="round" fill="none"/>
<path d="M483.3 66.5h0M481.5 67.8h0M494.6 66.9h0M490.2 68.3h0M501.0 66.3h0M492.1 68.8h0M485.4 66.9h0M498.0 66.5h0M484.5 66.8h0M484.3 67.3h0M487.3 69.9h0M488.9 60.2h0M493.5 66.2h0M482.6 67.4h0M503.4 62.6h0M494.8 65.9h0M500.3 71.3h0M498.7 62.3h0M488.0 63.7h0M488.5 63.0h0M487.0 69.9h0M503.3 66.5h0M486.7 69.8h0M492.6 69.3h0M489.3 65.6h0M491.6 66.3h0M483.9 68.4h0M492.8 65.5h0M501.1 69.0h0M502.4 65.5h0M494.0 64.7h0M487.7 67.1h0M497.2 67.2h0M485.5 68.0h0M503.2 65.9h0M490.9 71.3h0M503.2 65.1h0M486.4 68.3h0M487.0 69.0h0M491.9 70.9h0M483.5 65.0h0M484.4 66.4h0M499.0 67.6h0M502.0 66.2h0M492.8 68.5h0M498.0 64.3h0M491.8 71.3h0M493.1 66.4h0M493.1 67.0h0M492.1 66.9h0M489.5 65.8h0M491.3 71.4h0M490.8 70.2h0M494.6 66.5h0M484.7 67.6h0M501.5 68.5h0M488.2 67.3h0M497.1 66.2h0M483.1 66.4h0M493.1 66.9h0M486.9 70.4h0" stroke="#ef7b51" stroke-width="3.00" stroke-linecap="round" fill="none"/>
<path d="M495.2 73.2h0M484.7 74.0h0M497.2 70.7h0M498.6 69.1h0M492.5 71.2h0M496.9 71.4h0M501.0 77.3h0M490.3 70.1h0M485.0 77.8h0M492.2 78.5h0M501.0 73.0h0" stroke="#ffffff" stroke-width="0.90" stroke-linecap="round" fill="none"/>
<path d="M505.7 63.2h0M512.8 67.6h0M514.0 68.4h0M512.2 73.6h0M509.5 65.1h0M507.6 69.9h0M508.7 68.2h0M510.7 68.3h0M508.2 68.3h0M513.4 68.7h0M508.6 65.9h0M510.9 69.4h0M515.5 67.5h0M512.7 72.1h0M509.6 67.1h0M511.8 71.3h0M507.6 68.2h0M508.0 67.8h0M515.6 67.7h0M508.3 67.6h0M505.7 67.7h0M513.6 68.3h0M509.2 65.0h0M505.3 73.3h0M511.8 73.2h0M506.2 74.0h0M515.6 68.3h0M506.4 73.4h0M509.6 67.4h0M505.4 70.3h0M507.2 68.0h0" stroke="#529cfa" stroke-width="3.00" stroke-linecap="round" fill="none"/>
<path d="M511.4 76.0h0M511.3 75.8h0M509.0 74.3h0M506.3 80.6h0M506.8 76.4h0M507.7 73.1h0" stroke="#ffffff" stroke-width="0.90" stroke-linecap="round" fill="none"/>
<path d="M524.3 81.8h0M524.3 82.3h0M523.4 81.3h0M523.4 74.0h0M524.0 78.7h0M525.0 80.2h0M524.3 81.0h0M525.2 79.9h0M525.9 81.8h0M524.5 80.3h0M524.6 79.8h0" stroke="#529cfa" stroke-width="3.00" stroke-linecap="round" fill="none"/>
<path d="M524.0 84.3h0M524.4 90.8h0" stroke="#ffffff" stroke-width="0.90" stroke-linecap="round" fill="none"/>
<path d="M540.6 72.5h0M543.8 67.5h0M534.9 67.7h0M541.1 70.3h0M529.2 72.7h0M543.2 62.0h0M545.6 72.2h0M536.8 71.7h0M532.0 68.9h0M531.8 69.2h0M542.5 68.6h0M543.9 66.4h0M532.2 70.6h0M534.9 66.4h0M529.8 70.2h0M545.9 74.9h0M532.8 70.5h0M530.9 59.5h0M542.8 70.5h0M529.0 70.4h0M541.8 71.0h0M528.4 75.0h0M546.4 75.6h0M538.2 72.8h0M539.9 71.6h0M533.8 70.2h0M539.2 68.8h0M535.1 70.6h0M531.9 69.2h0M545.7 72.8h0M543.0 68.5h0M530.1 67.8h0M529.2 71.6h0M530.2 71.0h0M536.4 69.1h0M539.3 67.8h0M529.6 73.6h0M539.6 72.2h0M533.9 73.1h0M543.4 69.9h0M535.2 69.5h0M527.8 74.9h0M529.8 71.3h0M532.5 71.7h0M546.1 73.9h0M538.9 72.6h0M538.6 72.2h0M532.6 69.7h0M541.1 72.2h0M531.1 69.2h0M536.2 68.8h0M546.0 73.8h0M528.6 75.4h0M529.3 73.6h0" stroke="#ef7b51" stroke-width="3.00" stroke-linecap="round" fill="none"/>
<path d="M532.9 76.5h0M543.5 73.7h0M539.3 79.7h0M536.6 77.3h0M534.7 77.1h0M544.3 74.2h0M546.3 84.4h0M532.6 74.8h0M535.1 76.7h0M537.3 76.0h0" stroke="#ffffff" stroke-width="0.90" stroke-linecap="round" fill="none"/>
<path d="M564.2 72.2h0M567.0 77.1h0M559.9 74.3h0M553.8 77.9h0M563.5 72.5h0M560.2 70.2h0M563.5 74.2h0M562.4 66.5h0M566.5 76.7h0M552.3 76.0h0M549.9 73.1h0M560.3 74.5h0M557.9 74.2h0M564.5 73.9h0M549.3 70.7h0M550.2 73.5h0M564.6 68.5h0M554.2 62.8h0M558.9 76.9h0M560.8 72.7h0M562.2 74.5h0M549.4 72.9h0M550.1 72.7h0M550.6 70.0h0M550.7 72.5h0M555.0 73.8h0M549.6 73.6h0M564.8 73.7h0M564.9 72.9h0M551.7 72.5h0M567.7 76.1h0M550.5 73.0h0M562.2 75.2h0M552.0 75.4h0M566.9 75.9h0M565.0 69.4h0M562.8 75.7h0M561.5 73.7h0M550.8 69.9h0M561.9 75.2h0M553.2 76.5h0M561.5 75.4h0M550.6 72.8h0M553.4 77.3h0M562.6 73.9h0M554.7 75.1h0M549.3 67.9h0M558.6 75.9h0M560.0 74.0h0M564.2 73.2h0M561.5 74.1h0M561.3 72.4h0M554.6 75.0h0" stroke="#529cfa" stroke-width="3.00" stroke-linecap="round" fill="none"/>
<path d="M557.8 84.0h0M557.4 82.4h0M559.8 84.0h0M555.6 75.9h0M555.6 75.2h0M558.3 84.4h0M554.7 83.2h0M556.4 79.3h0M560.6 82.8h0M560.4 78.2h0" stroke="#ffffff" stroke-width="0.90" stroke-linecap="round" fill="none"/>
<path d="M583.7 67.7h0M572.3 61.0h0M580.5 74.0h0M586.0 66.6h0M573.1 71.3h0M576.1 74.3h0M572.2 66.3h0M572.8 60.2h0M577.7 70.0h0M579.5 67.5h0M575.7 68.9h0M575.7 57.5h0M574.0 71.4h0M579.2 67.8h0M574.4 65.6h0M573.6 64.8h0M577.3 70.6h0M582.0 73.4h0M585.2 67.1h0M586.5 70.3h0M581.0 75.6h0M582.9 69.8h0M584.1 69.6h0M577.9 66.8h0M586.7 71.6h0M573.3 71.9h0M573.3 69.4h0M585.4 71.2h0M580.8 75.3h0M586.3 71.8h0M579.3 69.5h0M573.0 69.7h0M573.0 70.0h0M574.3 71.4h0M585.0 70.9h0M576.8 70.2h0M586.6 71.5h0M575.1 71.4h0M582.5 71.5h0M581.7 75.5h0M584.3 66.7h0M569.8 75.5h0M577.1 72.1h0M577.8 69.0h0M585.5 69.0h0M577.9 67.6h0M572.5 66.7h0" stroke="#ef7b51" stroke-width="3.00" stroke-linecap="round" fill="none"/>
<path d="M580.9 83.1h0M580.0 74.9h0M583.8 73.6h0M579.8 78.7h0M578.2 74.9h0M583.7 77.5h0M583.8 78.2h0M585.6 79.1h0M582.9 74.2h0" stroke="#ffffff" stroke-width="0.90" stroke-linecap="round" fill="none"/>
<path d="M590.6 64.6h0M588.6 71.7h0M603.8 70.3h0M595.6 73.7h0M590.8 75.4h0M602.3 67.8h0M599.0 73.3h0M590.7 72.7h0M595.6 70.0h0M603.1 68.0h0M594.6 73.1h0M602.8 73.8h0M593.0 69.5h0M594.8 73.0h0M603.3 72.9h0M601.6 71.6h0M596.7 74.4h0M593.1 72.4h0M597.1 74.7h0M603.7 73.6h0M600.9 73.1h0M601.4 73.0h0M599.5 67.8h0M590.9 72.3h0M589.4 71.5h0M588.7 70.9h0M595.7 73.6h0M603.3 66.9h0M602.4 71.1h0M591.9 74.7h0M591.3 73.1h0M598.5 71.1h0M592.7 71.5h0M595.9 74.2h0M588.3 70.3h0M593.1 70.3h0M594.9 71.1h0M602.2 74.0h0M593.9 72.0h0M589.6 73.7h0M588.8 71.1h0M603.4 73.3h0M599.3 70.6h0M591.0 75.0h0" stroke="#529cfa" stroke-width="3.00" stroke-linecap="round" fill="none"/>
<path d="M590.1 76.5h0M593.0 79.4h0M592.2 75.5h0M595.7 80.6h0M597.2 80.9h0M591.7 82.3h0M596.2 82.1h0M600.8 76.8h0" stroke="#ffffff" stroke-width="0.90" stroke-linecap="round" fill="none"/>
<path d="M608.8 74.6h0M614.4 74.0h0M618.7 73.0h0M608.7 75.8h0M619.1 70.8h0M617.1 67.0h0M616.2 69.8h0M618.6 71.5h0M615.8 66.5h0M616.5 67.8h0M606.3 65.4h0M614.2 72.8h0M613.6 76.2h0M607.1 67.2h0M613.2 71.5h0M609.3 75.6h0M610.4 71.6h0M609.9 71.1h0M618.2 72.6h0M618.6 74.5h0M615.6 70.6h0M608.8 75.1h0M613.2 75.5h0M618.2 71.9h0M611.3 66.5h0M608.8 75.3h0M606.1 70.7h0M619.0 74.5h0M606.9 70.3h0M613.9 73.5h0M614.0 74.4h0M607.7 70.9h0M617.8 71.3h0M609.2 75.4h0M613.8 74.7h0M607.4 70.1h0M607.3 69.9h0M616.8 70.8h0M607.7 71.6h0M612.1 68.4h0M620.1 71.5h0" stroke="#ef7b51" stroke-width="3.00" stroke-linecap="round" fill="none"/>
<path d="M617.3 78.7h0M609.6 79.8h0M606.4 74.1h0M616.8 75.2h0M611.8 78.0h0M615.8 76.4h0M609.2 82.6h0M613.3 79.9h0" stroke="#ffffff" stroke-width="0.90" stroke-linecap="round" fill="none"/>
<path d="M626.3 63.4h0M622.7 49.5h0M623.6 71.1h0M624.9 71.2h0M622.9 64.5h0M627.3 59.3h0M629.8 67.9h0M626.4 62.4h0M628.1 62.9h0M627.1 64.4h0M625.3 61.1h0M632.9 68.3h0M636.7 60.9h0M622.5 66.3h0M624.2 73.1h0M627.8 70.3h0M631.9 65.7h0M632.1 68.6h0M628.7 70.6h0M623.7 70.7h0M629.6 69.5h0M622.0 65.2h0M625.9 68.6h0M632.4 69.0h0M628.5 70.4h0M625.1 72.1h0M627.7 70.1h0M630.1 69.7h0M634.1 71.8h0M632.0 66.7h0M629.5 71.8h0M627.8 68.8h0M631.0 67.0h0M626.3 66.0h0M624.4 72.6h0M633.1 70.5h0M623.6 68.8h0M629.2 72.1h0M631.2 67.4h0M628.9 70.9h0M633.7 71.4h0M622.1 66.9h0M625.4 70.7h0M625.6 68.1h0" stroke="#529cfa" stroke-width="3.00" stroke-linecap="round" fill="none"/>
<path d="M625.2 76.5h0M629.6 80.1h0M636.6 75.0h0M628.8 74.0h0M633.7 79.2h0M631.2 72.5h0M623.4 75.5h0M623.0 76.1h0" stroke="#ffffff" stroke-width="0.90" stroke-linecap="round" fill="none"/>
<path d="M651.4 67.4h0M646.1 74.4h0M649.7 70.2h0M649.0 72.3h0M651.0 68.2h0M647.1 72.9h0M651.1 66.8h0M646.4 64.8h0M642.0 70.2h0M643.6 72.6h0M643.9 71.2h0M640.4 70.6h0M644.0 55.4h0M652.1 73.1h0M650.8 66.8h0M639.9 67.2h0M644.1 67.7h0M648.6 70.9h0M646.6 73.0h0M646.9 72.1h0M645.8 71.8h0M645.6 71.7h0M652.1 72.5h0M652.5 74.9h0M649.2 70.8h0M644.8 71.0h0M650.1 68.8h0M645.8 71.7h0M643.3 71.6h0M651.1 67.3h0M650.4 68.5h0M645.0 69.8h0M652.6 70.6h0M649.7 66.7h0M652.9 75.2h0M645.9 72.8h0M649.8 70.0h0M649.7 70.1h0M639.9 72.1h0M640.2 71.4h0M650.1 67.3h0M649.1 68.4h0" stroke="#ef7b51" stroke-width="3.00" stroke-linecap="round" fill="none"/>
<path d="M648.8 76.3h0M652.3 81.5h0M649.2 80.3h0M641.8 78.3h0M651.1 71.3h0M651.0 72.7h0M653.2 83.2h0M648.6 75.8h0" stroke="#ffffff" stroke-width="0.90" stroke-linecap="round" fill="none"/>
<path d="M661.2 63.0h0M668.1 60.6h0M658.8 68.4h0M656.6 68.5h0M662.9 59.2h0M668.1 61.2h0M657.4 69.3h0M667.2 43.9h0M659.0 68.2h0M663.6 69.7h0M659.8 64.5h0M667.2 65.5h0M667.4 61.6h0M665.8 68.5h0M661.1 61.8h0M658.0 69.7h0M667.0 65.7h0M662.0 64.9h0M666.0 64.1h0M661.8 64.8h0M665.6 67.4h0M656.7 69.4h0M666.3 66.9h0M664.5 68.5h0M657.3 68.8h0M656.4 67.1h0M662.3 63.7h0M663.4 68.3h0M662.8 67.9h0M662.6 67.5h0M663.2 68.2h0M663.9 69.6h0M659.0 68.5h0M668.1 64.0h0M657.5 70.7h0M661.7 62.5h0M663.4 70.1h0" stroke="#529cfa" stroke-width="3.00" stroke-linecap="round" fill="none"/>
<path d="M665.8 76.6h0M664.5 76.3h0M666.6 69.9h0M659.5 69.5h0M657.9 77.4h0M662.3 68.7h0M657.8 79.0h0" stroke="#ffffff" stroke-width="0.90" stroke-linecap="round" fill="none"/>
<path d="M680.4 70.2h0M674.0 70.8h0M677.6 68.7h0M671.2 71.3h0M682.8 76.4h0M682.5 71.2h0M670.7 72.9h0M672.5 72.9h0M676.0 73.9h0M673.1 70.5h0M679.0 67.1h0M680.5 62.6h0M675.8 71.3h0M676.4 74.9h0M674.3 69.7h0M670.8 68.7h0M676.2 75.5h0M673.9 67.9h0M677.6 70.4h0M673.3 71.6h0M679.1 71.6h0M683.0 74.0h0M683.1 77.0h0M682.0 73.8h0M678.4 68.7h0M673.1 71.8h0M671.8 71.6h0M675.3 72.9h0M678.3 69.6h0M677.2 74.3h0M672.2 72.4h0M670.7 72.9h0M683.1 73.9h0M673.0 70.9h0M682.3 75.6h0M681.5 69.9h0M677.9 72.9h0" stroke="#ef7b51" stroke-width="3.00" stroke-linecap="round" fill="none"/>
<path d="M678.1 75.4h0M674.4 74.9h0M679.6 78.0h0M671.9 80.0h0M681.4 77.5h0M675.1 81.1h0M678.2 74.6h0" stroke="#ffffff" stroke-width="0.90" stroke-linecap="round" fill="none"/>
<path d="M455.6 70.0V86.0M478.4 76.0V98.0M567.6 78.0V91.0M604.9 72.0V95.0M425.5 70.0V82.0" stroke="#fff" stroke-width="0.7" stroke-opacity="0.65"/>
<path d="M430.0 27.9h0M413.4 35.5h0M417.5 40.1h0M409.9 43.1h0M421.4 49.5h0M421.6 52.7h0M421.0 59.5h0M422.8 60.9h0M407.4 61.5h0M405.8 64.4h0M428.8 61.5h0M474.5 53.3h0M463.6 58.5h0M460.7 61.5h0M468.3 59.1h0M470.7 60.3h0M473.6 63.8h0M479.4 60.3h0M417.5 63.8h0M415.2 65.0h0M425.1 66.1h0M407.6 70.2h0M518.4 43.4h0M513.5 54.5h0M514.1 56.8h0M507.1 59.7h0M509.5 59.1h0M479.9 60.3h0M526.4 60.6h0M475.0 53.3h0M553.8 50.9h0M550.7 56.0h0M569.3 48.6h0M554.1 50.6h0M555.8 51.5h0M561.7 52.5h0M550.9 56.0h0M598.8 50.0h0M590.3 56.4h0M594.4 54.7h0M598.1 55.6h0M603.1 55.4h0M591.5 61.7h0M596.7 61.7h0M600.2 64.4h0M589.7 65.8h0M594.4 67.9h0M599.0 67.3h0M565.4 65.3h0M563.4 68.8h0M628.8 57.6h0M627.7 60.9h0M635.6 44.3h0M633.6 51.5h0M629.5 57.6h0M633.0 58.0h0M627.2 60.9h0M635.6 61.1h0M638.3 63.4h0M671.0 38.7h0M663.4 43.9h0M661.6 48.0h0M665.7 50.9h0M669.2 51.9h0M657.0 53.9h0M662.2 56.0h0M668.1 57.4h0M658.7 58.5h0M519.0 70.0h0M518.0 74.0h0M520.0 78.0h0M517.5 82.0h0M519.5 85.0h0M518.5 88.0h0M521.0 66.0h0M516.5 90.5h0M517.0 94.0h0M516.8 98.0h0M517.2 102.0h0M518.0 106.0h0M516.6 109.0h0M521.0 111.5h0M517.5 96.0h0M516.5 104.0h0" stroke="#529cfa" stroke-width="3.00" stroke-linecap="round" fill="none"/>
<path d="M441.7 33.4h0M434.5 46.9h0M436.8 49.2h0M439.7 46.3h0M442.0 47.1h0M432.1 54.5h0M432.1 57.4h0M436.4 58.5h0M440.3 57.4h0M441.5 60.3h0M432.1 63.2h0M435.0 62.6h0M453.1 61.5h0M454.9 65.0h0M482.9 34.0h0M504.0 44.3h0M488.8 49.4h0M487.6 58.3h0M491.9 60.6h0M500.7 57.1h0M500.7 59.5h0M532.6 27.9h0M543.3 38.9h0M543.3 41.0h0M531.1 47.4h0M537.5 58.5h0M544.1 55.6h0M544.1 60.3h0M530.5 64.1h0M539.2 64.1h0M549.2 63.8h0M546.2 65.0h0M580.4 31.7h0M580.4 38.3h0M580.4 51.3h0M584.8 58.5h0M572.2 63.8h0M571.0 69.6h0M575.7 66.7h0M579.8 62.6h0M578.6 64.4h0M606.6 54.5h0M614.2 50.0h0M613.6 53.9h0M607.2 60.3h0M611.3 59.1h0M610.1 62.0h0M614.2 63.8h0M622.4 64.4h0M620.7 69.0h0M614.3 49.8h0M614.3 53.9h0M606.4 54.5h0M611.4 58.5h0M607.1 60.3h0M644.7 49.2h0M653.1 53.9h0M653.5 57.4h0M654.1 60.3h0M653.8 63.0h0M653.8 66.0h0M648.4 58.0h0M648.8 62.0h0M622.3 64.1h0M676.5 58.5h0M676.5 61.8h0M681.5 64.4h0" stroke="#ef7b51" stroke-width="3.00" stroke-linecap="round" fill="none"/>
<g stroke="#383838" stroke-width="1.0" fill="none">
<path d="M396.9 24.40 V141.80"/>
<path d="M391.5 141.80 H396.9"/>
<path d="M391.5 125.03 H396.9"/>
<path d="M391.5 108.26 H396.9"/>
<path d="M391.5 91.49 H396.9"/>
<path d="M391.5 74.71 H396.9"/>
<path d="M391.5 57.94 H396.9"/>
<path d="M391.5 41.17 H396.9"/>
<path d="M391.5 24.40 H396.9"/>
<path d="M418.1 150.40 H677.8"/>
<path d="M418.6 150.40 V155.70"/>
<path d="M445.1 150.40 V155.70"/>
<path d="M468.1 150.40 V155.70"/>
<path d="M495.2 150.40 V155.70"/>
<path d="M512.1 150.40 V155.70"/>
<path d="M537.9 150.40 V155.70"/>
<path d="M558.6 150.40 V155.70"/>
<path d="M578.1 150.40 V155.70"/>
<path d="M595.8 150.40 V155.70"/>
<path d="M613.1 150.40 V155.70"/>
<path d="M630.8 150.40 V155.70"/>
<path d="M647.9 150.40 V155.70"/>
<path d="M664.8 150.40 V155.70"/>
<path d="M677.3 150.40 V155.70"/>
</g>
<g font-family="Liberation Sans, sans-serif" font-size="6.4" fill="#1e1e1e" text-anchor="end">
<text x="387.4" y="144.70">10</text>
<text x="387.4" y="127.93">20</text>
<text x="387.4" y="111.16">30</text>
<text x="387.4" y="94.39">40</text>
<text x="387.4" y="77.61">50</text>
<text x="387.4" y="60.84">60</text>
<text x="387.4" y="44.07">70</text>
<text x="387.4" y="27.30">80</text>
</g>
<g font-family="Liberation Sans, sans-serif" font-size="6.4" fill="#1e1e1e" text-anchor="middle">
<text x="418.6" y="168.80">1</text>
<text x="445.1" y="168.80">2</text>
<text x="468.1" y="168.80">3</text>
<text x="495.2" y="168.80">4</text>
<text x="512.1" y="168.80">5</text>
<text x="537.9" y="168.80">7</text>
<text x="558.6" y="168.80">8</text>
<text x="578.1" y="168.80">9</text>
<text x="595.8" y="168.80">10</text>
<text x="613.1" y="168.80">11</text>
<text x="630.8" y="168.80">12</text>
<text x="647.9" y="168.80">13</text>
<text x="664.8" y="168.80">14</text>
<text x="677.3" y="168.80">15</text>
</g>
<text x="544.0" y="188.3" font-family="Liberation Sans, sans-serif" font-size="8.3" fill="#1e1e1e" text-anchor="middle">Chromosome</text>
<text transform="translate(365.1 88.6) rotate(-90)" font-family="Liberation Sans, sans-serif" font-size="8.15" fill="#1e1e1e" text-anchor="middle">Difference in methylation %</text>
<text x="543.8" y="8.1" font-family="Liberation Sans, sans-serif" font-weight="bold" font-size="10.5" fill="#000" text-anchor="middle">b.</text>
<path d="M49.6 367.9 L48.3 366.7 L48.3 341.2 L49.3 340.0 L50.3 338.8 L51.3 338.4 L52.3 338.6 L53.3 338.4 L54.3 338.6 L55.4 338.3 L56.4 338.4 L57.4 338.6 L58.4 338.0 L59.4 338.0 L60.4 338.1 L61.4 338.0 L62.4 338.5 L63.4 338.0 L64.4 338.1 L65.4 338.0 L66.4 337.8 L67.4 337.7 L68.5 338.2 L69.5 338.0 L70.5 338.4 L71.5 338.1 L72.5 337.9 L73.5 337.7 L74.5 337.5 L74.5 366.7 L73.2 367.9Z" fill="#529cfa"/>
<path d="M75.2 367.9 L73.9 366.7 L73.9 337.7 L74.9 337.8 L76.0 337.4 L77.0 337.8 L78.0 337.5 L79.1 337.5 L80.1 337.7 L81.1 337.5 L82.2 337.9 L83.2 337.7 L84.2 337.5 L85.3 337.2 L86.3 337.6 L87.3 337.4 L88.4 337.5 L89.4 337.7 L90.5 337.6 L91.5 338.0 L92.5 337.7 L93.6 337.5 L94.6 337.2 L95.6 337.1 L96.7 337.1 L97.7 337.4 L98.7 337.2 L99.8 337.4 L100.8 337.2 L100.8 366.7 L99.5 367.9Z" fill="#ef7b51"/>
<path d="M101.5 367.9 L100.2 366.7 L100.2 338.0 L101.2 337.7 L102.2 337.8 L103.2 338.2 L104.2 338.2 L105.2 337.8 L106.2 338.3 L107.2 338.4 L108.2 337.8 L109.2 338.0 L110.2 337.9 L111.2 337.6 L112.2 337.7 L113.3 338.0 L114.3 337.7 L115.3 337.7 L116.3 338.0 L117.3 337.8 L118.3 338.2 L119.3 338.2 L120.3 338.2 L121.3 337.7 L122.3 337.5 L123.3 337.9 L124.3 337.7 L125.3 337.9 L125.3 366.7 L124.0 367.9Z" fill="#529cfa"/>
<path d="M126.0 367.9 L124.7 366.7 L124.7 336.9 L125.7 337.0 L126.8 336.8 L127.8 336.9 L128.9 337.4 L129.9 336.9 L130.9 337.3 L132.0 337.4 L133.0 336.9 L134.1 336.7 L135.1 337.0 L136.1 337.5 L137.2 337.2 L138.2 337.4 L139.2 337.6 L140.3 337.8 L141.3 337.5 L142.4 337.2 L143.4 337.4 L144.4 337.4 L145.5 337.2 L146.5 337.5 L147.6 337.3 L148.6 337.3 L148.6 366.7 L147.3 367.9Z" fill="#ef7b51"/>
<path d="M149.3 367.9 L148.0 366.7 L148.0 337.4 L149.0 337.4 L150.0 337.7 L151.1 337.7 L152.1 337.3 L153.1 337.1 L154.1 337.5 L155.2 337.6 L156.2 337.6 L157.2 337.9 L158.2 337.6 L159.2 337.3 L160.3 337.2 L161.3 336.9 L162.3 337.5 L163.3 337.4 L164.3 337.4 L165.4 337.1 L166.4 337.6 L167.4 337.4 L168.4 337.0 L169.5 337.4 L170.5 337.6 L171.5 337.1 L171.5 366.7 L170.2 367.9Z" fill="#529cfa"/>
<path d="M172.2 367.9 L170.9 366.7 L170.9 337.4 L171.9 337.9 L172.9 337.6 L173.9 337.8 L175.0 337.6 L176.0 337.9 L177.0 337.9 L178.0 337.4 L179.0 338.0 L180.0 338.1 L181.0 337.8 L182.1 337.8 L183.1 337.9 L184.1 338.0 L185.1 338.1 L186.1 338.3 L187.1 338.3 L188.1 337.7 L189.2 337.3 L190.2 337.4 L191.2 337.3 L192.2 337.8 L192.2 366.7 L190.9 367.9Z" fill="#ef7b51"/>
<path d="M192.9 367.9 L191.6 366.7 L191.6 337.9 L192.6 337.8 L193.6 337.6 L194.7 337.6 L195.7 337.5 L196.7 337.4 L197.7 337.6 L198.7 337.8 L199.8 338.0 L200.8 337.8 L201.8 338.1 L202.8 337.6 L203.8 338.1 L204.8 338.1 L205.9 338.2 L206.9 337.6 L207.9 337.8 L208.9 337.9 L209.9 338.1 L211.0 338.1 L212.0 337.5 L213.0 337.7 L213.0 366.7 L211.7 367.9Z" fill="#529cfa"/>
<path d="M213.7 367.9 L212.4 366.7 L212.4 337.7 L213.4 337.8 L214.4 338.1 L215.4 337.9 L216.4 337.5 L217.5 337.5 L218.5 338.0 L219.5 337.9 L220.5 338.1 L221.5 337.8 L222.5 337.9 L223.5 338.1 L224.5 337.6 L225.5 337.9 L226.5 338.1 L227.6 338.3 L228.6 337.6 L229.6 337.4 L230.6 337.9 L231.6 337.7 L231.6 366.7 L230.3 367.9Z" fill="#ef7b51"/>
<path d="M232.3 367.9 L231.0 366.7 L231.0 336.6 L232.0 336.8 L233.1 336.7 L234.1 336.3 L235.1 336.4 L236.2 336.2 L237.2 336.5 L238.2 336.5 L239.3 336.9 L240.3 336.8 L241.3 336.9 L242.4 336.6 L243.4 336.6 L244.4 336.9 L245.5 336.6 L246.5 336.9 L247.5 337.1 L248.6 336.7 L249.6 336.8 L249.6 366.7 L248.3 367.9Z" fill="#529cfa"/>
<path d="M250.3 367.9 L249.0 366.7 L249.0 337.9 L250.0 338.1 L251.1 337.6 L252.1 337.4 L253.1 337.3 L254.2 337.6 L255.2 337.7 L256.2 337.9 L257.3 337.9 L258.3 337.6 L259.4 337.5 L260.4 338.0 L261.4 337.9 L262.5 337.4 L263.5 337.4 L264.5 337.4 L265.6 337.5 L266.6 337.4 L266.6 366.7 L265.3 367.9Z" fill="#ef7b51"/>
<path d="M267.3 367.9 L266.0 366.7 L266.0 336.8 L267.0 336.7 L268.1 336.9 L269.1 336.6 L270.1 336.8 L271.1 336.4 L272.2 336.8 L273.2 337.0 L274.2 336.9 L275.3 336.8 L276.3 336.4 L277.3 336.7 L278.4 337.0 L279.4 337.1 L280.4 336.8 L281.4 336.4 L282.5 336.8 L283.5 336.7 L283.5 366.7 L282.2 367.9Z" fill="#529cfa"/>
<path d="M284.2 367.9 L282.9 366.7 L282.9 337.6 L283.9 337.5 L285.0 337.5 L286.0 337.9 L287.0 337.7 L288.0 337.6 L289.1 338.1 L290.1 337.7 L291.1 337.9 L292.2 338.1 L293.2 337.8 L294.2 337.5 L295.3 337.4 L296.3 338.0 L297.3 337.8 L298.3 337.5 L299.4 337.4 L300.4 338.0 L300.4 366.7 L299.1 367.9Z" fill="#ef7b51"/>
<path d="M301.1 367.9 L299.8 366.7 L299.8 337.3 L300.8 337.5 L301.9 337.5 L302.9 337.5 L303.9 338.0 L305.0 337.7 L306.0 337.4 L307.0 337.4 L308.1 337.2 L309.1 337.7 L310.1 337.7 L311.2 337.6 L312.2 337.7 L313.2 337.9 L314.3 338.1 L315.3 337.7 L315.3 366.7 L314.0 367.9Z" fill="#529cfa"/>
<path d="M316.0 367.9 L314.7 366.7 L314.7 337.3 L315.7 337.3 L316.7 337.7 L317.8 337.9 L318.8 337.9 L319.8 337.7 L320.8 338.2 L321.9 337.6 L322.9 338.0 L323.9 338.2 L324.9 338.2 L326.0 338.5 L327.0 339.2 L328.0 340.1 L328.0 366.7 L326.7 367.9Z" fill="#ef7b51"/>
<path d="M71.7 338.1h0M59.6 334.8h0M71.4 338.0h0M59.7 335.7h0M65.7 337.7h0M49.3 338.2h0M64.1 338.3h0M53.1 339.0h0M53.0 338.8h0M58.5 337.4h0M68.6 338.5h0M71.6 337.4h0M62.1 338.3h0M68.7 338.5h0M51.7 337.9h0M64.4 337.7h0M63.1 338.1h0M63.0 337.0h0M54.7 337.6h0M52.2 338.0h0M67.6 338.6h0M57.9 337.4h0M49.4 339.0h0M54.2 338.2h0M69.6 337.9h0M62.4 338.6h0M66.7 338.0h0M53.2 338.3h0M52.8 338.4h0M64.8 337.4h0M72.6 337.4h0" stroke="#529cfa" stroke-width="3.00" stroke-linecap="round" fill="none"/>
<path d="M79.5 337.1h0M92.8 338.0h0M92.7 337.3h0M96.1 335.9h0M83.5 336.8h0M89.4 337.2h0M91.2 336.7h0M80.6 337.7h0M88.4 337.6h0M92.2 337.9h0M80.6 337.4h0M75.8 338.1h0M74.8 337.5h0M91.3 337.4h0M79.4 337.5h0M89.7 337.9h0M91.8 338.2h0M77.2 337.5h0M85.8 337.2h0M80.0 335.5h0M90.8 336.6h0M94.2 337.2h0M85.4 336.3h0M90.1 337.5h0M81.5 337.1h0M98.0 337.6h0M82.0 338.0h0M93.9 336.6h0M94.5 337.6h0M87.9 337.8h0M82.8 337.7h0M86.9 337.2h0" stroke="#ef7b51" stroke-width="3.00" stroke-linecap="round" fill="none"/>
<path d="M110.2 338.1h0M117.8 337.8h0M114.8 338.0h0M119.0 337.6h0M123.5 338.0h0M111.4 337.8h0M117.9 338.1h0M106.4 338.4h0M104.1 338.5h0M106.7 338.4h0M117.2 338.5h0M118.4 338.1h0M103.2 337.9h0M121.0 337.2h0M115.9 338.3h0M102.5 337.7h0M116.1 336.5h0M108.9 338.5h0M110.8 336.5h0M103.1 338.4h0M120.2 336.8h0M101.2 337.4h0M116.9 338.2h0M104.6 338.5h0M122.6 337.6h0M118.1 338.1h0M122.5 337.8h0M115.3 337.5h0M116.5 337.3h0M109.0 337.9h0" stroke="#529cfa" stroke-width="3.00" stroke-linecap="round" fill="none"/>
<path d="M129.1 336.7h0M135.2 336.7h0M136.8 337.7h0M127.2 337.7h0M140.1 337.0h0M144.9 337.1h0M141.5 334.8h0M130.9 335.6h0M135.9 336.3h0M145.0 337.8h0M127.0 337.3h0M146.1 337.5h0M141.9 336.8h0M146.8 335.4h0M125.6 337.4h0M130.8 336.4h0M135.8 337.5h0M130.4 336.1h0M131.5 337.4h0M126.7 336.9h0M146.6 336.9h0M146.2 336.8h0M135.5 337.4h0M138.2 337.6h0M138.1 336.7h0M141.7 337.2h0M130.4 337.1h0M142.9 337.4h0" stroke="#ef7b51" stroke-width="3.00" stroke-linecap="round" fill="none"/>
<path d="M150.2 334.8h0M165.2 337.4h0M163.4 336.9h0M164.5 334.4h0M155.1 337.1h0M152.9 337.8h0M156.7 335.0h0M155.2 337.5h0M169.5 335.8h0M157.1 338.0h0M158.9 337.6h0M166.6 336.7h0M158.6 337.8h0M150.1 338.0h0M155.9 337.6h0M149.1 337.6h0M156.9 337.8h0M165.7 337.0h0M163.7 337.6h0M153.1 337.6h0M169.0 336.7h0M157.9 336.4h0M160.8 336.8h0M160.2 337.5h0M156.7 338.0h0M169.2 336.2h0M155.2 337.8h0M165.2 338.0h0" stroke="#529cfa" stroke-width="3.00" stroke-linecap="round" fill="none"/>
<path d="M175.0 337.2h0M180.0 337.4h0M172.8 337.9h0M183.4 337.1h0M173.2 338.2h0M188.8 338.2h0M180.2 338.0h0M182.3 337.4h0M177.5 338.0h0M182.2 336.4h0M184.6 337.8h0M188.9 337.8h0M175.4 338.0h0M175.8 337.7h0M186.2 337.4h0M186.9 337.2h0M190.0 336.8h0M188.3 337.2h0M175.4 337.0h0M175.0 337.0h0M176.1 337.8h0M190.6 337.2h0M182.0 337.0h0M175.4 338.2h0M190.1 338.1h0" stroke="#ef7b51" stroke-width="3.00" stroke-linecap="round" fill="none"/>
<path d="M206.5 338.2h0M205.2 336.9h0M195.0 337.5h0M195.5 335.4h0M205.0 338.3h0M206.8 337.6h0M194.3 337.7h0M200.4 334.3h0M193.7 338.0h0M207.3 337.8h0M200.6 338.1h0M204.2 337.6h0M194.9 337.0h0M209.5 338.0h0M202.7 338.1h0M211.4 338.1h0M199.3 338.0h0M193.8 336.8h0M210.3 337.8h0M198.6 337.3h0M198.5 338.0h0M204.9 337.1h0M204.0 338.0h0M202.0 336.5h0M201.1 338.1h0" stroke="#529cfa" stroke-width="3.00" stroke-linecap="round" fill="none"/>
<path d="M225.1 333.3h0M215.1 337.8h0M228.5 336.3h0M221.7 331.0h0M224.8 338.1h0M214.2 337.5h0M228.5 336.7h0M223.0 335.9h0M228.7 338.0h0M214.1 338.1h0M222.5 337.6h0M214.4 335.0h0M224.8 338.2h0M216.2 338.2h0M217.9 337.8h0M229.9 338.1h0M220.2 337.5h0M220.5 337.6h0M224.8 337.5h0M228.1 336.3h0M228.8 336.7h0M227.0 337.2h0" stroke="#ef7b51" stroke-width="3.00" stroke-linecap="round" fill="none"/>
<path d="M234.0 334.4h0M243.4 336.3h0M246.9 333.8h0M240.8 335.1h0M234.9 334.8h0M242.1 336.6h0M246.2 336.5h0M239.1 335.9h0M238.6 336.8h0M239.1 336.9h0M244.6 336.8h0M232.5 336.4h0M238.1 337.2h0M242.9 336.2h0M240.5 336.8h0M233.1 336.9h0M242.2 336.4h0M233.4 336.8h0M236.9 337.0h0M233.3 336.3h0M236.8 336.4h0M236.8 336.5h0" stroke="#529cfa" stroke-width="3.00" stroke-linecap="round" fill="none"/>
<path d="M259.5 337.8h0M252.5 336.9h0M253.4 338.1h0M254.6 338.3h0M264.5 338.2h0M255.2 337.7h0M256.8 335.0h0M250.9 337.2h0M253.9 338.2h0M254.6 337.7h0M255.1 338.1h0M262.9 337.5h0M265.1 337.9h0M254.2 337.9h0M250.1 336.3h0M251.3 337.3h0M264.7 337.1h0M258.7 337.5h0M256.9 337.5h0M264.8 337.5h0" stroke="#ef7b51" stroke-width="3.00" stroke-linecap="round" fill="none"/>
<path d="M273.6 336.7h0M282.0 336.6h0M269.8 332.1h0M277.2 334.7h0M269.1 334.8h0M279.2 336.8h0M275.7 334.9h0M268.9 337.1h0M281.4 336.9h0M278.4 337.2h0M278.1 337.0h0M278.5 337.1h0M280.8 336.8h0M269.6 336.0h0M267.6 336.7h0M280.4 337.0h0M279.8 336.8h0M273.5 336.8h0M281.2 337.2h0M272.9 336.4h0" stroke="#529cfa" stroke-width="3.00" stroke-linecap="round" fill="none"/>
<path d="M292.0 334.1h0M293.3 334.5h0M288.9 338.4h0M290.8 337.6h0M292.2 333.4h0M286.2 336.3h0M285.8 338.1h0M284.7 338.4h0M295.1 338.5h0M289.5 337.7h0M295.6 337.4h0M284.1 338.3h0M294.2 336.2h0M295.4 337.8h0M294.8 338.4h0M284.9 337.7h0M296.4 337.6h0M291.8 338.4h0M297.8 337.7h0M294.8 337.9h0" stroke="#ef7b51" stroke-width="3.00" stroke-linecap="round" fill="none"/>
<path d="M311.6 338.0h0M310.9 337.1h0M311.9 337.2h0M311.1 334.8h0M303.5 338.2h0M311.3 334.8h0M302.9 336.7h0M301.6 337.6h0M305.8 338.1h0M303.6 336.6h0M308.5 337.5h0M307.8 337.5h0M309.7 337.2h0M307.8 338.3h0M305.3 337.7h0M313.7 338.2h0M305.4 338.2h0" stroke="#529cfa" stroke-width="3.00" stroke-linecap="round" fill="none"/>
<path d="M318.7 336.4h0M324.6 337.8h0M321.0 334.5h0M325.2 338.5h0M324.2 337.6h0M321.0 337.9h0M324.2 337.5h0M322.4 338.3h0M322.4 338.5h0M320.3 338.3h0M320.0 338.3h0M325.2 337.7h0M323.5 338.0h0M326.0 337.4h0M326.8 339.4h0" stroke="#ef7b51" stroke-width="3.00" stroke-linecap="round" fill="none"/>
<path d="M74.6 327.1h0M75.7 330.7h0M118.0 316.9h0M149.1 330.3h0M153.6 332.2h0M59.4 333.2h0M67.9 332.8h0M70.4 334.3h0M74.6 334.3h0M102.2 332.4h0M112.3 334.3h0M119.0 333.9h0M169.9 333.9h0M234.1 325.5h0M234.1 332.4h0M272.4 327.6h0M201.9 331.0h0M206.2 331.8h0M207.9 330.3h0M242.2 333.1h0M248.5 332.0h0M307.4 335.0h0" stroke="#529cfa" stroke-width="3.00" stroke-linecap="round" fill="none"/>
<path d="M78.2 322.2h0M78.9 325.8h0M81.0 329.0h0M89.5 328.2h0M92.0 331.8h0M81.4 334.9h0M85.2 333.2h0M130.7 330.0h0M148.1 335.6h0M178.4 333.9h0M183.7 332.8h0M186.8 333.4h0M284.5 290.7h0M284.5 312.3h0M284.5 314.0h0M284.5 320.0h0M287.7 320.2h0M284.5 324.6h0M284.5 326.1h0M284.5 335.0h0M224.2 328.2h0M225.9 329.9h0M317.3 329.9h0M319.0 329.5h0M187.1 333.5h0M191.4 333.1h0M258.0 333.9h0M262.3 332.4h0" stroke="#ef7b51" stroke-width="3.00" stroke-linecap="round" fill="none"/>
<g stroke="#383838" stroke-width="1.0" fill="none">
<path d="M41.5 241.45 V367.90"/>
<path d="M36 367.40 H41.5"/>
<path d="M36 346.41 H41.5"/>
<path d="M36 325.42 H41.5"/>
<path d="M36 304.42 H41.5"/>
<path d="M36 283.43 H41.5"/>
<path d="M36 262.44 H41.5"/>
<path d="M36 241.45 H41.5"/>
<path d="M62.1 367.40 H321.9"/>
<path d="M62.6 367.40 V372.70"/>
<path d="M88.4 367.40 V372.70"/>
<path d="M113.8 367.40 V372.70"/>
<path d="M137.4 367.40 V372.70"/>
<path d="M161.1 367.40 V372.70"/>
<path d="M182.6 367.40 V372.70"/>
<path d="M203.4 367.40 V372.70"/>
<path d="M222.7 367.40 V372.70"/>
<path d="M241.3 367.40 V372.70"/>
<path d="M259.3 367.40 V372.70"/>
<path d="M275.7 367.40 V372.70"/>
<path d="M293.0 367.40 V372.70"/>
<path d="M309.2 367.40 V372.70"/>
<path d="M321.4 367.40 V372.70"/>
</g>
<g font-family="Liberation Sans, sans-serif" font-size="6.4" fill="#1e1e1e" text-anchor="end">
<text x="32.0" y="370.30">0</text>
<text x="32.0" y="349.31">2</text>
<text x="32.0" y="328.32">4</text>
<text x="32.0" y="307.32">6</text>
<text x="32.0" y="286.33">8</text>
<text x="32.0" y="265.34">10</text>
<text x="32.0" y="244.35">12</text>
</g>
<g font-family="Liberation Sans, sans-serif" font-size="6.4" fill="#1e1e1e" text-anchor="middle">
<text x="62.6" y="385.80">1</text>
<text x="88.4" y="385.80">2</text>
<text x="113.8" y="385.80">3</text>
<text x="137.4" y="385.80">4</text>
<text x="161.1" y="385.80">5</text>
<text x="182.6" y="385.80">7</text>
<text x="203.4" y="385.80">8</text>
<text x="222.7" y="385.80">9</text>
<text x="241.3" y="385.80">10</text>
<text x="259.3" y="385.80">11</text>
<text x="275.7" y="385.80">12</text>
<text x="293.0" y="385.80">13</text>
<text x="309.2" y="385.80">14</text>
<text x="321.4" y="385.80">15</text>
</g>
<text x="188.4" y="405.3" font-family="Liberation Sans, sans-serif" font-size="8.3" fill="#1e1e1e" text-anchor="middle">Chromosome</text>
<g transform="translate(7.9 217.0) rotate(-90)" font-family="Liberation Sans, sans-serif" font-size="8.3" fill="#1e1e1e">
<text x="-106.1" y="0">−</text>
<text x="-99.4" y="0">log</text>
<text x="-87.6" y="1.9" font-size="5.9">10</text>
<text x="-80.4" y="0">(</text>
<text x="-77.4" y="0" font-style="italic">p</text>
<text x="-71.6" y="0">)</text>
</g>
<text x="188.2" y="225.1" font-family="Liberation Sans, sans-serif" font-weight="bold" font-size="10.5" fill="#000" text-anchor="middle">c.</text>
<path d="M405.2 367.9 L403.9 366.7 L403.9 340.4 L404.9 340.2 L405.9 341.0 L406.9 341.6 L407.9 341.5 L408.9 340.9 L409.9 340.1 L411.0 341.2 L412.0 340.4 L413.0 340.1 L414.0 340.2 L415.0 340.4 L416.0 341.3 L417.0 340.8 L418.0 341.1 L419.0 341.3 L420.0 340.8 L421.0 340.6 L422.0 340.7 L423.0 340.1 L424.1 340.7 L425.1 340.1 L426.1 340.7 L427.1 341.5 L428.1 341.9 L429.1 341.5 L430.1 341.1 L430.1 366.7 L428.8 367.9Z" fill="#529cfa"/>
<path d="M430.8 367.9 L429.5 366.7 L429.5 340.4 L430.5 340.2 L431.6 339.4 L432.6 339.8 L433.6 339.5 L434.7 339.8 L435.7 340.8 L436.7 340.4 L437.8 339.3 L438.8 339.2 L439.8 340.4 L440.9 339.5 L441.9 339.6 L443.0 339.0 L444.0 339.3 L445.0 339.5 L446.1 340.7 L447.1 341.0 L448.1 339.7 L449.2 340.4 L450.2 339.7 L451.2 340.0 L452.3 340.0 L453.3 340.1 L454.3 340.2 L455.4 339.9 L456.4 339.9 L456.4 366.7 L455.1 367.9Z" fill="#ef7b51"/>
<path d="M457.1 367.9 L455.8 366.7 L455.8 341.0 L456.8 341.2 L457.8 340.1 L458.8 341.1 L459.8 341.3 L460.8 341.4 L461.8 341.2 L462.8 341.6 L463.8 341.5 L464.8 341.6 L465.8 340.8 L466.8 339.9 L467.8 341.1 L468.9 341.2 L469.9 341.6 L470.9 341.5 L471.9 341.8 L472.9 341.4 L473.9 340.1 L474.9 340.8 L475.9 340.5 L476.9 341.1 L477.9 340.0 L478.9 340.4 L479.9 340.0 L480.9 339.5 L480.9 366.7 L479.6 367.9Z" fill="#529cfa"/>
<path d="M481.6 367.9 L480.3 366.7 L480.3 340.2 L481.3 340.1 L482.4 341.5 L483.4 340.7 L484.5 340.1 L485.5 339.9 L486.5 340.6 L487.6 340.7 L488.6 341.3 L489.7 340.8 L490.7 340.3 L491.7 341.2 L492.8 340.4 L493.8 340.9 L494.8 341.5 L495.9 340.7 L496.9 340.4 L498.0 340.6 L499.0 340.1 L500.0 340.9 L501.1 341.1 L502.1 341.7 L503.2 340.4 L504.2 340.8 L504.2 366.7 L502.9 367.9Z" fill="#ef7b51"/>
<path d="M504.9 367.9 L503.6 366.7 L503.6 341.1 L504.6 340.5 L505.6 340.9 L506.7 340.3 L507.7 340.2 L508.7 341.1 L509.7 340.4 L510.8 341.2 L511.8 340.2 L512.8 340.1 L513.8 339.6 L514.8 339.6 L515.9 340.4 L516.9 340.7 L517.9 340.3 L518.9 339.9 L519.9 341.1 L521.0 340.5 L522.0 340.7 L523.0 341.3 L524.0 341.7 L525.1 341.0 L526.1 340.8 L527.1 340.4 L527.1 366.7 L525.8 367.9Z" fill="#529cfa"/>
<path d="M527.8 367.9 L526.5 366.7 L526.5 340.5 L527.5 339.3 L528.5 339.4 L529.5 339.6 L530.6 339.5 L531.6 340.7 L532.6 340.7 L533.6 340.8 L534.6 340.9 L535.6 340.2 L536.6 339.4 L537.7 340.5 L538.7 340.1 L539.7 339.7 L540.7 339.3 L541.7 340.4 L542.7 340.5 L543.7 340.0 L544.8 340.1 L545.8 340.1 L546.8 340.0 L547.8 339.8 L547.8 366.7 L546.5 367.9Z" fill="#ef7b51"/>
<path d="M548.5 367.9 L547.2 366.7 L547.2 341.2 L548.2 341.8 L549.2 340.9 L550.3 341.3 L551.3 341.1 L552.3 341.1 L553.3 340.4 L554.3 340.8 L555.4 340.8 L556.4 340.5 L557.4 340.6 L558.4 340.5 L559.4 340.2 L560.4 341.4 L561.5 340.3 L562.5 340.3 L563.5 340.5 L564.5 340.7 L565.5 340.0 L566.6 340.1 L567.6 340.4 L568.6 340.7 L568.6 366.7 L567.3 367.9Z" fill="#529cfa"/>
<path d="M569.3 367.9 L568.0 366.7 L568.0 338.1 L569.0 338.9 L570.0 338.7 L571.0 339.3 L572.0 339.1 L573.1 338.1 L574.1 339.3 L575.1 339.2 L576.1 339.7 L577.1 340.0 L578.1 338.7 L579.1 338.8 L580.1 339.2 L581.1 338.7 L582.1 338.7 L583.2 339.6 L584.2 339.4 L585.2 338.8 L586.2 339.2 L587.2 338.7 L587.2 366.7 L585.9 367.9Z" fill="#ef7b51"/>
<path d="M587.9 367.9 L586.6 366.7 L586.6 339.8 L587.6 340.8 L588.7 341.2 L589.7 341.1 L590.7 340.3 L591.8 340.2 L592.8 341.1 L593.8 340.9 L594.9 340.5 L595.9 340.7 L596.9 340.2 L598.0 339.9 L599.0 339.4 L600.0 340.8 L601.1 340.1 L602.1 340.3 L603.1 341.1 L604.2 341.0 L605.2 340.5 L605.2 366.7 L603.9 367.9Z" fill="#529cfa"/>
<path d="M605.9 367.9 L604.6 366.7 L604.6 339.6 L605.6 339.1 L606.7 338.9 L607.7 338.7 L608.7 339.2 L609.8 339.9 L610.8 338.8 L611.8 339.7 L612.9 339.6 L613.9 340.4 L615.0 339.1 L616.0 340.2 L617.0 340.5 L618.1 339.1 L619.1 340.1 L620.1 339.5 L621.2 338.6 L622.2 338.9 L622.2 366.7 L620.9 367.9Z" fill="#ef7b51"/>
<path d="M622.9 367.9 L621.6 366.7 L621.6 340.8 L622.6 341.0 L623.7 341.4 L624.7 341.0 L625.7 341.1 L626.7 340.7 L627.8 341.1 L628.8 340.9 L629.8 340.1 L630.9 340.6 L631.9 340.9 L632.9 341.6 L634.0 341.7 L635.0 341.7 L636.0 341.5 L637.0 341.6 L638.1 341.4 L639.1 341.0 L639.1 366.7 L637.8 367.9Z" fill="#529cfa"/>
<path d="M639.8 367.9 L638.5 366.7 L638.5 339.2 L639.5 338.9 L640.6 338.8 L641.6 338.4 L642.6 339.4 L643.6 338.6 L644.7 338.4 L645.7 339.0 L646.7 339.8 L647.8 338.6 L648.8 338.0 L649.8 337.7 L650.9 338.4 L651.9 339.0 L652.9 339.8 L653.9 339.4 L655.0 338.6 L656.0 338.3 L656.0 366.7 L654.7 367.9Z" fill="#ef7b51"/>
<path d="M656.7 367.9 L655.4 366.7 L655.4 340.6 L656.4 340.8 L657.5 340.2 L658.5 340.5 L659.5 340.0 L660.6 340.2 L661.6 341.1 L662.6 340.6 L663.7 340.3 L664.7 341.1 L665.7 340.2 L666.8 340.4 L667.8 341.5 L668.8 340.3 L669.9 341.3 L670.9 340.9 L670.9 366.7 L669.6 367.9Z" fill="#529cfa"/>
<path d="M671.6 367.9 L670.3 366.7 L670.3 340.8 L671.3 340.5 L672.3 340.8 L673.4 340.7 L674.4 340.1 L675.4 341.4 L676.4 341.1 L677.5 340.8 L678.5 341.2 L679.5 341.4 L680.5 341.2 L681.6 340.3 L682.6 341.2 L683.6 341.9 L683.6 366.7 L682.3 367.9Z" fill="#ef7b51"/>
<path d="M420.8 335.3h0M405.8 339.5h0M417.0 340.4h0M405.5 341.0h0M409.8 335.4h0M417.6 336.4h0M413.0 341.2h0M411.9 335.0h0M405.8 341.2h0M418.2 337.2h0M407.1 341.8h0M417.0 337.4h0M410.2 338.3h0M406.4 338.8h0M417.2 338.4h0M415.0 336.9h0M420.5 340.6h0M404.7 338.5h0M416.3 338.3h0M425.3 339.6h0M414.7 341.3h0M417.1 339.1h0M414.2 337.8h0M415.2 338.6h0M428.0 339.9h0M417.1 332.1h0M422.6 331.0h0M426.7 332.7h0M416.9 327.7h0M405.6 323.5h0M415.5 331.6h0M427.6 332.6h0" stroke="#529cfa" stroke-width="3.00" stroke-linecap="round" fill="none"/>
<path d="M432.9 338.0h0M450.1 336.3h0M442.6 331.9h0M433.6 338.2h0M435.5 331.1h0M442.2 334.4h0M437.7 335.2h0M432.8 329.7h0M438.6 338.8h0M454.4 336.0h0M445.0 333.3h0M442.6 329.3h0M437.5 337.6h0M444.1 338.0h0M436.9 333.8h0M450.0 328.9h0M451.2 336.0h0M447.3 340.3h0M435.4 332.6h0M451.7 338.2h0M452.4 329.0h0M452.1 329.7h0M443.0 334.5h0M433.4 335.9h0M448.2 336.8h0M442.8 338.8h0M449.6 336.5h0M432.0 336.5h0M453.9 333.3h0M435.9 338.3h0M447.1 336.4h0M430.4 330.8h0M443.9 340.6h0M450.4 340.4h0M450.3 336.7h0M439.3 337.5h0M450.8 333.3h0M433.4 339.0h0M453.2 337.8h0M452.7 330.2h0M453.2 339.2h0M438.9 334.0h0M444.7 340.5h0M443.2 333.9h0M437.7 327.3h0M445.9 322.8h0M432.2 328.0h0M451.2 327.7h0M438.3 327.3h0M442.7 327.6h0M448.8 327.4h0" stroke="#ef7b51" stroke-width="3.00" stroke-linecap="round" fill="none"/>
<path d="M469.2 336.7h0M463.9 339.2h0M460.8 332.2h0M471.8 335.3h0M478.1 337.6h0M476.7 336.6h0M473.5 334.1h0M477.9 334.0h0M479.2 336.8h0M460.2 337.1h0M457.8 331.9h0M463.9 337.0h0M477.3 337.6h0M474.3 341.0h0M465.9 340.9h0M462.1 339.4h0M466.7 336.8h0M457.1 335.0h0M457.8 338.1h0M464.9 336.9h0M477.4 340.6h0M474.0 334.1h0M459.7 334.1h0M464.5 333.3h0M477.0 332.1h0M474.1 334.7h0M463.4 337.7h0M464.5 334.7h0M476.8 336.3h0M466.4 332.1h0M464.2 338.2h0M461.1 332.5h0M460.9 332.7h0M470.0 338.3h0M479.0 334.4h0M474.7 332.9h0M465.0 328.5h0M472.9 329.2h0M472.9 326.9h0M463.7 328.5h0M462.8 329.5h0M472.2 329.7h0M468.5 327.0h0" stroke="#529cfa" stroke-width="3.00" stroke-linecap="round" fill="none"/>
<path d="M483.5 337.8h0M489.9 340.3h0M502.4 340.3h0M494.2 341.1h0M481.4 341.6h0M484.4 341.1h0M481.6 333.0h0M497.0 340.7h0M491.2 335.2h0M500.3 334.4h0M490.7 340.3h0M491.1 334.4h0M487.8 331.3h0M488.7 341.6h0M483.6 338.2h0M490.3 339.8h0M497.0 341.3h0M489.8 335.5h0M499.7 339.6h0M483.3 340.3h0M493.2 331.7h0M484.0 334.9h0M488.0 339.2h0M491.5 339.8h0M487.2 339.6h0M486.7 340.7h0M487.9 335.2h0M494.2 338.2h0M495.6 335.8h0M488.5 334.3h0M498.1 331.2h0M499.5 334.9h0M501.0 339.8h0M497.1 340.8h0M483.4 341.6h0M499.5 328.5h0M501.5 325.3h0M486.7 329.5h0M482.0 328.7h0M498.3 327.2h0M485.5 325.8h0" stroke="#ef7b51" stroke-width="3.00" stroke-linecap="round" fill="none"/>
<path d="M514.6 338.8h0M524.8 335.5h0M505.8 335.5h0M520.9 339.4h0M522.1 336.2h0M517.2 339.5h0M518.8 340.6h0M515.5 337.8h0M507.4 341.1h0M518.1 335.2h0M519.4 341.2h0M522.8 341.2h0M512.0 339.4h0M521.9 337.4h0M504.9 336.6h0M518.9 336.5h0M511.4 336.8h0M522.4 340.5h0M511.8 334.0h0M523.9 340.0h0M511.6 337.3h0M514.2 340.4h0M511.4 338.0h0M514.5 336.1h0M504.8 332.6h0M525.3 324.6h0M510.5 328.8h0M511.5 331.2h0M522.4 329.1h0M521.7 332.2h0" stroke="#529cfa" stroke-width="3.00" stroke-linecap="round" fill="none"/>
<path d="M536.7 333.6h0M528.7 339.3h0M544.5 337.7h0M541.2 333.3h0M541.6 337.8h0M532.5 340.5h0M535.9 337.9h0M533.8 338.2h0M540.2 339.9h0M546.4 340.0h0M538.3 340.8h0M542.7 334.0h0M542.4 339.9h0M545.2 340.5h0M532.9 335.5h0M530.8 337.1h0M538.2 337.8h0M538.3 333.0h0M532.2 336.9h0M543.0 337.8h0M535.2 334.8h0M544.1 336.3h0M539.6 338.7h0M534.3 340.7h0M528.9 339.0h0M538.1 339.9h0M527.5 328.7h0M545.3 329.8h0M536.1 329.1h0M529.5 330.8h0M538.5 331.0h0M536.1 329.9h0" stroke="#ef7b51" stroke-width="3.00" stroke-linecap="round" fill="none"/>
<path d="M565.7 341.8h0M553.8 340.4h0M565.2 336.7h0M556.9 341.6h0M564.4 339.4h0M555.9 340.8h0M558.0 340.9h0M551.7 335.0h0M549.2 341.1h0M555.9 336.8h0M564.5 340.3h0M551.7 335.9h0M558.7 341.4h0M561.1 339.2h0M566.2 341.6h0M565.3 341.0h0M553.9 337.5h0M555.4 341.3h0M552.1 341.2h0M558.7 341.1h0M560.1 332.7h0M550.3 332.4h0M550.6 332.1h0M564.7 329.5h0M555.7 329.8h0M553.7 331.7h0" stroke="#529cfa" stroke-width="3.00" stroke-linecap="round" fill="none"/>
<path d="M575.0 339.4h0M571.6 333.2h0M571.8 339.1h0M583.8 339.1h0M575.4 335.3h0M571.0 333.3h0M582.7 336.1h0M585.3 331.8h0M574.3 331.2h0M571.1 332.8h0M580.0 337.3h0M581.1 336.5h0M577.2 337.7h0M571.9 339.6h0M574.8 336.8h0M575.4 332.3h0M577.1 331.5h0M585.7 338.3h0M574.3 334.4h0M576.3 339.7h0M572.7 334.0h0M584.9 338.7h0M576.6 337.6h0M580.5 318.3h0M574.8 325.5h0M571.4 326.6h0M576.6 329.7h0M574.4 329.4h0" stroke="#ef7b51" stroke-width="3.00" stroke-linecap="round" fill="none"/>
<path d="M593.4 336.1h0M599.2 338.3h0M602.8 340.0h0M593.2 337.8h0M591.4 337.3h0M600.2 341.3h0M588.5 334.8h0M588.1 340.9h0M602.9 340.2h0M591.9 337.0h0M588.7 336.8h0M603.3 341.2h0M599.4 334.0h0M599.1 337.0h0M595.7 332.7h0M600.0 334.5h0M595.4 341.3h0M591.2 333.0h0M599.9 336.4h0M602.3 332.4h0M595.8 332.7h0M589.2 337.6h0M594.2 336.8h0M589.7 328.7h0M594.4 330.4h0M595.8 327.9h0M596.7 331.0h0M596.3 323.7h0" stroke="#529cfa" stroke-width="3.00" stroke-linecap="round" fill="none"/>
<path d="M606.2 338.1h0M617.6 333.9h0M610.1 332.2h0M618.1 339.1h0M615.9 340.2h0M608.1 340.3h0M608.9 334.2h0M608.3 332.8h0M606.4 331.9h0M610.7 339.0h0M616.9 336.2h0M614.6 339.6h0M606.4 337.0h0M606.3 338.3h0M611.5 339.0h0M613.3 334.5h0M609.5 340.0h0M619.6 339.8h0M610.1 338.1h0M611.2 333.1h0M607.7 330.3h0M617.8 330.0h0M608.8 322.6h0M620.1 330.0h0M609.0 329.4h0" stroke="#ef7b51" stroke-width="3.00" stroke-linecap="round" fill="none"/>
<path d="M633.3 338.6h0M635.8 341.2h0M636.8 335.7h0M625.5 338.0h0M636.7 340.9h0M634.4 339.1h0M629.6 336.1h0M633.2 340.1h0M634.1 341.3h0M636.6 340.9h0M626.4 341.6h0M623.0 340.8h0M624.7 338.6h0M633.3 339.3h0M631.8 339.9h0M622.9 339.8h0M625.4 332.4h0M637.1 330.7h0M628.0 329.3h0M629.8 333.3h0M628.1 332.3h0" stroke="#529cfa" stroke-width="3.00" stroke-linecap="round" fill="none"/>
<path d="M640.7 333.2h0M647.4 337.7h0M653.9 333.9h0M639.9 334.4h0M640.8 338.3h0M646.6 336.5h0M643.0 339.6h0M653.6 339.5h0M640.9 338.3h0M642.9 337.9h0M640.8 339.7h0M654.2 335.3h0M647.0 339.6h0M643.6 336.8h0M651.6 337.8h0M639.6 336.8h0M643.4 331.2h0M653.6 330.2h0M646.8 330.9h0M644.7 332.0h0M652.0 325.4h0" stroke="#ef7b51" stroke-width="3.00" stroke-linecap="round" fill="none"/>
<path d="M656.6 338.3h0M665.7 340.2h0M664.8 336.5h0M669.4 341.0h0M658.8 337.6h0M661.7 341.6h0M661.0 335.7h0M660.6 340.1h0M663.4 340.4h0M660.0 337.0h0M658.7 340.8h0M660.2 340.8h0M666.5 341.0h0M666.4 340.0h0M665.2 333.4h0M660.2 331.8h0M658.6 333.1h0M664.1 333.8h0" stroke="#529cfa" stroke-width="3.00" stroke-linecap="round" fill="none"/>
<path d="M681.6 341.8h0M678.1 338.3h0M675.6 340.7h0M671.3 338.9h0M681.2 335.8h0M675.8 335.2h0M682.2 336.4h0M674.8 340.7h0M682.6 338.1h0M673.8 341.3h0M671.2 340.7h0M671.5 337.7h0M679.7 336.0h0M680.7 329.1h0M672.2 330.2h0M679.2 323.3h0" stroke="#ef7b51" stroke-width="3.00" stroke-linecap="round" fill="none"/>
<path d="M423.4 301.3h0M463.1 295.8h0M472.4 301.6h0M470.3 304.5h0M476.1 304.8h0M477.3 309.8h0M466.3 312.7h0M431.3 314.1h0M430.6 316.4h0M425.9 316.8h0M410.3 320.1h0M430.6 322.3h0M459.6 323.0h0M464.8 322.3h0M470.3 323.0h0M478.2 321.5h0M418.1 327.0h0M419.3 328.1h0M413.4 331.4h0M406.4 333.1h0M410.5 333.1h0M420.1 333.5h0M417.5 329.6h0M457.2 330.0h0M459.6 333.7h0M466.6 329.0h0M470.1 327.9h0M473.6 327.9h0M465.4 336.1h0M430.6 326.7h0M430.6 331.4h0M516.7 296.9h0M476.2 304.8h0M477.6 309.8h0M480.3 312.7h0M509.1 319.9h0M513.0 325.0h0M512.1 325.8h0M519.4 323.2h0M519.4 326.1h0M524.6 326.9h0M527.6 323.4h0M508.9 331.4h0M514.5 331.4h0M519.1 332.8h0M525.0 334.3h0M477.9 322.0h0M478.5 323.8h0M479.4 328.5h0M551.5 324.4h0M554.4 324.4h0M597.5 289.2h0M590.5 293.5h0M627.6 292.9h0M567.4 301.5h0M569.2 301.5h0M590.5 306.7h0M589.7 309.1h0M589.7 313.3h0M593.9 312.3h0M598.1 313.3h0M624.0 313.5h0M569.2 314.8h0M567.4 319.6h0M568.6 321.1h0M559.6 321.7h0M562.0 323.2h0M568.6 325.6h0M551.2 324.1h0M553.6 324.1h0M555.4 327.7h0M559.0 327.1h0M559.6 331.6h0M590.3 320.5h0M590.3 324.1h0M594.5 321.5h0M600.5 322.0h0M596.7 324.7h0M595.7 328.9h0M599.3 329.2h0M601.7 328.9h0M624.6 325.3h0M624.6 328.9h0M624.6 332.6h0M627.5 293.0h0M667.5 299.3h0M663.7 304.3h0M663.7 306.4h0M624.1 313.9h0M630.9 313.2h0M661.6 318.0h0M661.6 320.0h0M665.0 323.4h0M667.1 325.5h0M669.1 325.5h0M630.0 324.1h0M624.1 325.5h0M624.1 328.2h0M624.1 331.0h0M624.1 334.4h0M628.9 331.0h0M632.3 330.3h0M635.7 331.0h0M669.1 331.0h0M660.9 330.3h0M658.9 332.3h0" stroke="#529cfa" stroke-width="3.00" stroke-linecap="round" fill="none"/>
<path d="M434.5 294.9h0M448.1 301.3h0M454.3 308.0h0M449.3 314.7h0M431.3 317.1h0M438.3 320.5h0M443.8 320.6h0M449.6 324.6h0M454.3 327.6h0M432.1 327.9h0M438.0 327.3h0M439.1 329.0h0M435.0 329.6h0M447.9 329.0h0M448.5 331.4h0M438.5 333.7h0M432.1 332.6h0M432.1 334.9h0M445.5 336.6h0M454.9 333.7h0M538.1 298.5h0M486.4 310.1h0M487.8 311.3h0M482.9 313.3h0M490.8 316.8h0M491.9 318.5h0M486.7 322.3h0M482.9 325.5h0M495.8 326.5h0M500.9 326.5h0M503.6 326.5h0M496.0 330.2h0M500.1 331.4h0M497.2 336.1h0M501.9 337.8h0M486.1 331.4h0M487.8 331.4h0M484.3 334.9h0M540.4 312.1h0M538.1 317.4h0M542.5 318.5h0M546.2 319.9h0M529.3 325.0h0M532.8 326.1h0M539.8 324.4h0M545.1 325.8h0M546.2 329.6h0M530.5 330.2h0M539.2 330.2h0M535.7 334.3h0M578.3 295.9h0M578.6 297.7h0M578.3 306.7h0M582.5 306.1h0M586.1 309.7h0M578.3 312.1h0M579.5 311.7h0M575.3 322.3h0M578.5 320.3h0M581.5 324.7h0M584.9 325.6h0M609.5 299.5h0M612.6 298.9h0M618.6 307.9h0M619.4 312.7h0M613.8 317.2h0M615.2 320.5h0M609.8 321.5h0M606.5 325.9h0M610.2 328.7h0M615.0 329.5h0M619.4 327.5h0M575.9 329.0h0M580.1 327.7h0M582.5 330.2h0M640.2 275.0h0M641.8 300.9h0M609.8 299.6h0M612.5 298.9h0M618.4 307.7h0M619.3 312.5h0M613.9 317.3h0M615.2 320.0h0M609.8 321.4h0M606.6 326.2h0M610.2 328.2h0M619.7 327.1h0M648.4 311.2h0M643.9 315.3h0M648.4 326.6h0M655.5 325.5h0M673.2 320.0h0M671.8 323.4h0M678.7 325.5h0M681.4 333.7h0" stroke="#ef7b51" stroke-width="3.00" stroke-linecap="round" fill="none"/>
<path d="M640.5 296.8h0M639.9 298.3h0M640.4 299.0h0M640.3 300.3h0M640.3 301.2h0M640.2 302.4h0M640.2 303.1h0M640.3 304.1h0M640.5 305.7h0M640.2 306.8h0M639.9 307.6h0M640.2 308.3h0M640.1 309.2h0M640.2 310.6h0M640.0 311.8h0M640.1 312.4h0M640.2 313.1h0M640.3 314.7h0M640.4 315.5h0M640.3 316.8h0M640.4 318.3h0M640.1 319.6h0M640.5 321.2h0M640.4 321.9h0M640.2 323.2h0M640.2 324.3h0M640.2 325.8h0M640.1 327.2h0M640.4 328.7h0M640.2 329.7h0M640.3 331.2h0M640.0 332.3h0M640.3 333.2h0M640.4 333.9h0M640.4 334.8h0M640.5 335.7h0M640.2 337.0h0M640.3 338.1h0M640.1 339.2h0M640.2 340.0h0M640.3 341.5h0" stroke="#ef7b51" stroke-width="3.00" stroke-linecap="round" fill="none"/>
<g stroke="#383838" stroke-width="1.0" fill="none">
<path d="M396.9 241.40 V358.80"/>
<path d="M391.5 358.80 H396.9"/>
<path d="M391.5 342.03 H396.9"/>
<path d="M391.5 325.26 H396.9"/>
<path d="M391.5 308.49 H396.9"/>
<path d="M391.5 291.71 H396.9"/>
<path d="M391.5 274.94 H396.9"/>
<path d="M391.5 258.17 H396.9"/>
<path d="M391.5 241.40 H396.9"/>
<path d="M417.7 367.40 H677.5"/>
<path d="M418.2 367.40 V372.70"/>
<path d="M444.0 367.40 V372.70"/>
<path d="M469.4 367.40 V372.70"/>
<path d="M493.0 367.40 V372.70"/>
<path d="M516.7 367.40 V372.70"/>
<path d="M538.2 367.40 V372.70"/>
<path d="M559.0 367.40 V372.70"/>
<path d="M578.3 367.40 V372.70"/>
<path d="M596.9 367.40 V372.70"/>
<path d="M614.9 367.40 V372.70"/>
<path d="M631.3 367.40 V372.70"/>
<path d="M648.6 367.40 V372.70"/>
<path d="M664.8 367.40 V372.70"/>
<path d="M677.0 367.40 V372.70"/>
</g>
<g font-family="Liberation Sans, sans-serif" font-size="6.4" fill="#1e1e1e" text-anchor="end">
<text x="387.4" y="361.70">10</text>
<text x="387.4" y="344.93">20</text>
<text x="387.4" y="328.16">30</text>
<text x="387.4" y="311.39">40</text>
<text x="387.4" y="294.61">50</text>
<text x="387.4" y="277.84">60</text>
<text x="387.4" y="261.07">70</text>
<text x="387.4" y="244.30">80</text>
</g>
<g font-family="Liberation Sans, sans-serif" font-size="6.4" fill="#1e1e1e" text-anchor="middle">
<text x="418.2" y="385.80">1</text>
<text x="444.0" y="385.80">2</text>
<text x="469.4" y="385.80">3</text>
<text x="493.0" y="385.80">4</text>
<text x="516.7" y="385.80">5</text>
<text x="538.2" y="385.80">7</text>
<text x="559.0" y="385.80">8</text>
<text x="578.3" y="385.80">9</text>
<text x="596.9" y="385.80">10</text>
<text x="614.9" y="385.80">11</text>
<text x="631.3" y="385.80">12</text>
<text x="648.6" y="385.80">13</text>
<text x="664.8" y="385.80">14</text>
<text x="677.0" y="385.80">15</text>
</g>
<text x="544.0" y="405.3" font-family="Liberation Sans, sans-serif" font-size="8.3" fill="#1e1e1e" text-anchor="middle">Chromosome</text>
<text transform="translate(365.1 305.6) rotate(-90)" font-family="Liberation Sans, sans-serif" font-size="8.15" fill="#1e1e1e" text-anchor="middle">Difference in methylation %</text>
<text x="543.8" y="225.1" font-family="Liberation Sans, sans-serif" font-weight="bold" font-size="10.5" fill="#000" text-anchor="middle">d.</text>
<path d="M49.6 584.9 L48.3 583.7 L48.3 556.7 L49.3 554.4 L50.3 553.1 L51.3 552.3 L52.3 551.9 L53.3 552.2 L54.3 551.9 L55.4 551.8 L56.4 551.1 L57.4 550.4 L58.4 551.0 L59.4 551.9 L60.4 552.7 L61.4 552.7 L62.4 551.8 L63.4 550.8 L64.4 550.6 L65.4 550.6 L66.4 551.4 L67.4 551.7 L68.5 551.4 L69.5 551.1 L70.5 551.4 L71.5 551.4 L72.5 551.8 L73.5 551.3 L74.5 550.7 L74.5 583.7 L73.2 584.9Z" fill="#529cfa"/>
<path d="M75.2 584.9 L73.9 583.7 L73.9 549.5 L74.9 549.3 L76.0 549.8 L77.0 549.2 L78.0 548.7 L79.1 548.5 L80.1 550.3 L81.1 551.4 L82.2 550.0 L83.2 549.2 L84.2 549.0 L85.3 549.2 L86.3 549.3 L87.3 549.2 L88.4 550.2 L89.4 550.9 L90.5 549.8 L91.5 548.4 L92.5 547.7 L93.6 548.8 L94.6 549.3 L95.6 549.0 L96.7 549.8 L97.7 550.2 L98.7 550.1 L99.8 548.7 L100.8 548.3 L100.8 583.7 L99.5 584.9Z" fill="#ef7b51"/>
<path d="M101.5 584.9 L100.2 583.7 L100.2 552.2 L101.2 552.6 L102.2 552.5 L103.2 551.6 L104.2 552.0 L105.2 552.1 L106.2 552.4 L107.2 552.2 L108.2 552.1 L109.2 551.5 L110.2 551.6 L111.2 552.1 L112.2 553.0 L113.3 552.9 L114.3 552.6 L115.3 551.8 L116.3 551.0 L117.3 551.4 L118.3 552.5 L119.3 552.9 L120.3 552.2 L121.3 551.6 L122.3 552.0 L123.3 551.4 L124.3 552.0 L125.3 552.0 L125.3 583.7 L124.0 584.9Z" fill="#529cfa"/>
<path d="M126.0 584.9 L124.7 583.7 L124.7 552.7 L125.7 552.8 L126.8 551.4 L127.8 550.3 L128.9 550.6 L129.9 552.0 L130.9 552.3 L132.0 552.1 L133.0 551.3 L134.1 551.7 L135.1 551.7 L136.1 551.6 L137.2 552.2 L138.2 551.6 L139.2 552.4 L140.3 551.9 L141.3 552.7 L142.4 551.7 L143.4 551.7 L144.4 551.5 L145.5 552.1 L146.5 553.0 L147.6 552.9 L148.6 552.5 L148.6 583.7 L147.3 584.9Z" fill="#ef7b51"/>
<path d="M149.3 584.9 L148.0 583.7 L148.0 552.5 L149.0 551.9 L150.0 552.4 L151.1 552.9 L152.1 551.8 L153.1 551.9 L154.1 552.8 L155.2 552.1 L156.2 552.4 L157.2 552.4 L158.2 551.5 L159.2 552.4 L160.3 552.1 L161.3 551.1 L162.3 552.0 L163.3 553.2 L164.3 551.9 L165.4 551.0 L166.4 551.9 L167.4 551.9 L168.4 552.4 L169.5 552.0 L170.5 551.7 L171.5 552.1 L171.5 583.7 L170.2 584.9Z" fill="#529cfa"/>
<path d="M172.2 584.9 L170.9 583.7 L170.9 550.4 L171.9 550.4 L172.9 551.7 L173.9 551.9 L175.0 550.4 L176.0 550.3 L177.0 551.4 L178.0 550.2 L179.0 551.1 L180.0 551.3 L181.0 551.3 L182.1 551.0 L183.1 552.2 L184.1 552.0 L185.1 550.7 L186.1 551.0 L187.1 551.0 L188.1 550.4 L189.2 551.8 L190.2 552.4 L191.2 551.6 L192.2 549.8 L192.2 583.7 L190.9 584.9Z" fill="#ef7b51"/>
<path d="M192.9 584.9 L191.6 583.7 L191.6 551.5 L192.6 551.9 L193.6 551.7 L194.7 551.0 L195.7 551.7 L196.7 551.4 L197.7 550.9 L198.7 550.6 L199.8 551.1 L200.8 551.6 L201.8 552.1 L202.8 551.7 L203.8 551.5 L204.8 550.4 L205.9 550.2 L206.9 551.2 L207.9 553.0 L208.9 553.3 L209.9 552.6 L211.0 551.3 L212.0 550.1 L213.0 551.0 L213.0 583.7 L211.7 584.9Z" fill="#529cfa"/>
<path d="M213.7 584.9 L212.4 583.7 L212.4 551.8 L213.4 551.2 L214.4 551.2 L215.4 551.5 L216.4 551.7 L217.5 551.4 L218.5 550.2 L219.5 550.4 L220.5 551.2 L221.5 552.6 L222.5 552.0 L223.5 550.6 L224.5 550.4 L225.5 551.8 L226.5 552.3 L227.6 551.4 L228.6 550.7 L229.6 550.4 L230.6 551.1 L231.6 552.7 L231.6 583.7 L230.3 584.9Z" fill="#ef7b51"/>
<path d="M232.3 584.9 L231.0 583.7 L231.0 550.7 L232.0 551.8 L233.1 551.3 L234.1 550.2 L235.1 550.9 L236.2 551.6 L237.2 551.7 L238.2 551.3 L239.3 551.2 L240.3 552.1 L241.3 551.5 L242.4 550.7 L243.4 550.1 L244.4 551.5 L245.5 551.1 L246.5 550.4 L247.5 550.2 L248.6 550.8 L249.6 551.1 L249.6 583.7 L248.3 584.9Z" fill="#529cfa"/>
<path d="M250.3 584.9 L249.0 583.7 L249.0 550.4 L250.0 551.6 L251.1 552.5 L252.1 551.4 L253.1 552.2 L254.2 551.2 L255.2 550.3 L256.2 551.9 L257.3 551.8 L258.3 551.3 L259.4 552.5 L260.4 552.2 L261.4 551.6 L262.5 551.1 L263.5 551.0 L264.5 550.9 L265.6 551.9 L266.6 552.2 L266.6 583.7 L265.3 584.9Z" fill="#ef7b51"/>
<path d="M267.3 584.9 L266.0 583.7 L266.0 551.4 L267.0 551.6 L268.1 551.4 L269.1 551.0 L270.1 550.6 L271.1 550.4 L272.2 551.0 L273.2 550.5 L274.2 550.5 L275.3 550.6 L276.3 551.2 L277.3 550.4 L278.4 550.8 L279.4 550.3 L280.4 550.9 L281.4 551.9 L282.5 551.7 L283.5 551.2 L283.5 583.7 L282.2 584.9Z" fill="#529cfa"/>
<path d="M284.2 584.9 L282.9 583.7 L282.9 550.9 L283.9 551.5 L285.0 551.4 L286.0 551.3 L287.0 552.0 L288.0 551.7 L289.1 550.8 L290.1 551.8 L291.1 551.7 L292.2 551.7 L293.2 552.0 L294.2 552.2 L295.3 550.7 L296.3 551.0 L297.3 552.4 L298.3 551.6 L299.4 551.1 L300.4 551.0 L300.4 583.7 L299.1 584.9Z" fill="#ef7b51"/>
<path d="M301.1 584.9 L299.8 583.7 L299.8 551.9 L300.8 550.7 L301.9 550.0 L302.9 550.6 L303.9 551.2 L305.0 552.3 L306.0 551.4 L307.0 550.4 L308.1 550.6 L309.1 551.7 L310.1 551.0 L311.2 551.1 L312.2 551.3 L313.2 550.7 L314.3 551.9 L315.3 552.6 L315.3 583.7 L314.0 584.9Z" fill="#529cfa"/>
<path d="M316.0 584.9 L314.7 583.7 L314.7 550.2 L315.7 551.3 L316.7 552.4 L317.8 552.0 L318.8 552.3 L319.8 552.1 L320.8 551.3 L321.9 552.0 L322.9 553.5 L323.9 551.6 L324.9 550.8 L326.0 553.2 L327.0 553.5 L328.0 553.3 L328.0 583.7 L326.7 584.9Z" fill="#ef7b51"/>
<path d="M67.8 550.2h0M51.5 551.6h0M60.3 551.5h0M72.6 551.8h0M65.2 550.5h0M60.8 552.8h0M65.1 550.9h0M60.1 552.8h0M72.5 550.8h0M60.2 550.4h0M59.1 547.4h0M49.7 550.8h0M60.3 549.7h0M71.8 544.1h0M53.3 550.0h0M51.7 552.0h0M51.3 551.8h0M49.5 554.1h0M67.8 551.6h0M62.3 552.3h0M56.8 550.4h0M64.9 551.1h0M70.6 550.7h0M70.0 551.9h0M60.7 552.0h0M55.8 550.6h0M49.4 551.9h0M52.5 551.9h0M56.1 551.6h0M68.1 551.4h0M54.0 552.2h0M70.2 551.3h0M57.0 550.1h0M57.4 550.4h0M60.6 551.2h0M53.9 551.4h0M69.9 550.8h0M71.5 552.2h0M67.5 549.8h0M59.1 551.0h0M63.3 550.4h0M53.1 549.4h0M60.3 552.8h0M58.6 548.3h0M71.6 550.6h0M50.2 553.0h0M57.3 550.4h0M70.3 551.8h0M55.5 552.1h0M54.1 551.8h0M64.3 549.6h0M52.9 551.9h0M63.3 549.0h0M53.1 550.4h0M54.3 552.8h0" stroke="#529cfa" stroke-width="3.00" stroke-linecap="round" fill="none"/>
<path d="M94.4 550.3h0M93.5 545.7h0M77.0 545.3h0M94.1 549.2h0M83.9 547.4h0M84.6 548.1h0M89.7 551.3h0M92.9 546.6h0M97.5 548.1h0M90.9 547.5h0M79.3 548.2h0M96.8 545.1h0M75.2 546.1h0M90.4 549.8h0M77.9 545.1h0M81.0 549.6h0M76.6 548.6h0M84.4 548.9h0M78.8 546.7h0M89.7 550.8h0M74.8 548.4h0M79.7 549.1h0M97.7 549.9h0M99.1 549.1h0M80.1 549.6h0M79.2 549.2h0M98.1 550.0h0M96.0 549.5h0M75.7 549.2h0M83.6 548.7h0M75.2 549.2h0M76.1 548.4h0M77.9 548.1h0M90.8 549.4h0M81.2 551.1h0M96.9 549.9h0M80.2 550.3h0M88.5 550.0h0M96.8 549.1h0M87.8 548.8h0M86.4 549.5h0M97.0 549.5h0M82.9 548.7h0M88.1 549.3h0M92.1 547.8h0M77.8 546.8h0M79.2 549.3h0M81.0 549.3h0M96.5 550.0h0M77.5 549.1h0M77.1 548.2h0M80.8 549.5h0M96.7 549.9h0M87.8 548.6h0M88.9 550.8h0M96.7 550.0h0M94.0 548.4h0" stroke="#ef7b51" stroke-width="3.00" stroke-linecap="round" fill="none"/>
<path d="M112.9 552.4h0M106.1 552.5h0M112.1 551.2h0M115.2 549.6h0M111.0 552.1h0M106.2 549.7h0M110.6 550.4h0M116.5 549.0h0M104.7 551.0h0M115.9 546.3h0M107.4 548.5h0M120.4 551.4h0M114.3 547.3h0M111.1 551.6h0M119.3 553.0h0M117.5 550.4h0M110.0 546.3h0M115.0 551.5h0M122.9 551.2h0M102.9 552.3h0M119.3 551.8h0M122.1 551.3h0M112.1 552.5h0M112.3 553.0h0M105.1 551.9h0M118.2 551.7h0M103.1 550.1h0M120.0 551.0h0M106.3 552.7h0M122.0 551.5h0M104.6 551.2h0M121.4 550.3h0M101.6 551.2h0M110.9 551.2h0M122.9 552.0h0M108.7 551.3h0M117.3 552.0h0M117.5 552.2h0M112.7 552.9h0M110.7 550.6h0M103.3 551.9h0M120.8 552.0h0M107.9 551.5h0M101.7 550.3h0M123.1 550.9h0M120.3 551.1h0M107.9 552.5h0M118.3 552.8h0M119.4 551.4h0M120.3 551.9h0M121.7 551.9h0M102.9 552.5h0M108.2 551.1h0" stroke="#529cfa" stroke-width="3.00" stroke-linecap="round" fill="none"/>
<path d="M136.3 551.9h0M141.2 551.9h0M135.3 552.4h0M132.8 551.3h0M135.3 552.3h0M131.9 552.4h0M145.1 549.8h0M145.0 552.2h0M130.5 551.8h0M126.8 551.6h0M137.6 552.6h0M134.0 552.0h0M130.7 549.0h0M133.9 551.4h0M145.3 548.5h0M131.0 552.5h0M129.8 552.6h0M142.2 551.5h0M141.9 552.5h0M141.6 552.5h0M144.4 551.0h0M129.9 550.7h0M132.9 552.0h0M136.6 552.3h0M134.9 551.9h0M134.8 552.0h0M136.4 552.3h0M134.9 552.2h0M146.7 552.8h0M140.6 551.9h0M134.1 551.5h0M125.5 553.4h0M140.9 552.7h0M147.2 553.0h0M139.1 552.3h0M142.9 550.9h0M135.9 552.6h0M142.9 552.3h0M137.9 551.8h0M144.5 551.1h0M145.9 552.1h0M132.7 550.5h0M137.1 551.6h0M136.2 552.3h0M126.6 550.7h0M145.1 551.2h0M136.5 552.3h0M127.0 550.9h0M136.5 551.8h0M142.4 552.5h0" stroke="#ef7b51" stroke-width="3.00" stroke-linecap="round" fill="none"/>
<path d="M157.8 544.5h0M161.9 549.8h0M159.6 552.8h0M166.5 548.5h0M153.3 549.8h0M163.7 550.7h0M166.0 548.4h0M156.7 551.6h0M164.1 552.4h0M149.4 551.7h0M166.6 551.4h0M155.3 552.7h0M151.4 546.3h0M149.9 544.5h0M160.6 551.8h0M149.1 547.7h0M157.1 552.2h0M165.8 551.9h0M162.9 553.1h0M164.1 551.4h0M158.2 551.8h0M158.9 551.9h0M164.5 551.6h0M168.4 553.4h0M160.1 551.4h0M152.0 551.7h0M158.2 550.4h0M159.2 551.7h0M162.8 552.3h0M165.8 551.4h0M160.8 550.8h0M154.1 552.3h0M169.0 553.2h0M156.4 552.4h0M159.3 552.2h0M151.2 553.2h0M151.1 551.5h0M166.6 551.0h0M159.4 551.7h0M165.3 549.9h0M158.1 548.9h0M149.0 548.5h0M163.4 552.7h0M160.0 552.6h0M153.0 551.0h0M163.4 551.8h0M161.7 551.8h0M164.8 552.1h0M170.0 550.6h0M167.6 550.1h0" stroke="#529cfa" stroke-width="3.00" stroke-linecap="round" fill="none"/>
<path d="M180.9 546.8h0M182.0 547.1h0M182.6 541.4h0M178.5 549.1h0M181.0 549.7h0M177.9 548.0h0M187.1 549.2h0M182.8 551.9h0M186.5 550.4h0M173.5 552.0h0M177.3 551.3h0M180.7 547.5h0M183.1 551.2h0M178.5 547.5h0M185.3 550.1h0M189.5 552.2h0M184.4 551.3h0M183.1 551.5h0M180.4 550.7h0M183.1 550.3h0M190.7 552.3h0M183.4 552.2h0M177.2 551.0h0M175.3 549.1h0M189.4 550.1h0M183.8 551.9h0M174.6 550.3h0M172.5 551.6h0M174.1 549.8h0M180.7 550.6h0M175.3 550.8h0M177.3 550.9h0M178.9 550.0h0M190.0 552.4h0M172.3 550.7h0M189.5 552.2h0M178.5 550.8h0M175.6 548.9h0M183.1 551.1h0M179.1 549.0h0M183.7 552.2h0M187.9 551.1h0M188.7 551.1h0M186.5 550.9h0M172.3 549.6h0" stroke="#ef7b51" stroke-width="3.00" stroke-linecap="round" fill="none"/>
<path d="M199.1 551.0h0M192.6 546.8h0M198.6 551.5h0M196.4 550.8h0M207.0 551.3h0M195.3 551.9h0M209.2 552.6h0M197.6 543.6h0M206.6 548.5h0M206.5 551.3h0M207.4 543.6h0M211.3 551.1h0M204.2 546.7h0M207.7 552.0h0M199.2 550.3h0M200.3 551.3h0M204.7 549.7h0M201.2 551.5h0M210.6 550.6h0M211.6 550.8h0M208.4 552.2h0M211.5 550.5h0M199.7 551.2h0M194.0 550.8h0M208.5 553.0h0M193.6 551.7h0M201.7 553.2h0M195.1 550.5h0M209.7 552.6h0M201.2 552.7h0M200.9 551.7h0M197.2 551.5h0M198.4 550.9h0M199.9 551.4h0M207.0 551.7h0M193.6 550.3h0M201.8 552.6h0M192.6 551.3h0M197.6 550.2h0M194.9 551.6h0M197.4 550.2h0M195.9 551.2h0M210.6 551.3h0M207.4 551.8h0M193.4 549.8h0" stroke="#529cfa" stroke-width="3.00" stroke-linecap="round" fill="none"/>
<path d="M227.8 549.0h0M223.3 547.8h0M225.8 548.9h0M217.0 544.7h0M224.0 549.9h0M220.8 551.9h0M228.5 551.3h0M220.6 552.0h0M228.9 546.4h0M215.3 547.6h0M224.0 547.1h0M229.2 548.9h0M218.2 550.7h0M213.7 551.8h0M229.7 550.8h0M214.0 552.1h0M219.9 551.0h0M226.1 552.4h0M217.8 551.2h0M228.0 551.4h0M216.6 551.9h0M222.0 551.6h0M228.5 551.4h0M226.5 552.1h0M214.4 552.3h0M218.6 549.6h0M223.8 551.6h0M217.5 550.9h0M216.9 551.5h0M228.0 551.8h0M226.0 551.9h0M224.8 550.8h0M223.6 551.6h0M217.4 551.6h0M215.3 552.3h0M221.0 551.7h0M216.8 551.5h0M223.8 551.3h0M227.3 550.9h0M227.5 551.0h0" stroke="#ef7b51" stroke-width="3.00" stroke-linecap="round" fill="none"/>
<path d="M240.3 545.6h0M237.4 549.4h0M247.0 550.9h0M242.6 547.8h0M246.1 549.7h0M233.6 550.9h0M232.0 548.8h0M237.2 551.4h0M234.2 551.3h0M234.1 551.2h0M235.6 550.6h0M246.0 551.3h0M235.5 551.4h0M245.4 551.1h0M239.0 549.9h0M246.6 550.8h0M239.0 549.5h0M242.8 550.8h0M242.6 550.0h0M238.6 550.1h0M237.7 550.8h0M234.2 551.1h0M232.8 551.1h0M244.4 551.7h0M239.8 550.0h0M246.7 550.8h0M246.4 551.2h0M244.5 551.3h0M236.1 551.5h0M234.4 551.1h0M238.9 550.3h0M246.5 550.5h0M240.3 551.6h0M244.3 551.0h0M237.0 551.8h0M242.1 551.6h0M243.2 550.5h0M238.1 551.1h0M235.2 550.7h0" stroke="#529cfa" stroke-width="3.00" stroke-linecap="round" fill="none"/>
<path d="M252.6 550.9h0M251.0 551.4h0M264.0 547.2h0M257.5 548.7h0M262.2 551.4h0M251.2 552.4h0M258.8 550.3h0M252.3 549.5h0M258.6 551.1h0M257.7 551.8h0M259.0 545.7h0M251.9 551.8h0M261.8 550.4h0M256.4 551.8h0M254.4 550.4h0M253.9 550.1h0M255.0 549.8h0M256.6 552.2h0M262.8 551.2h0M251.8 550.6h0M254.6 550.9h0M261.8 551.6h0M250.0 550.5h0M261.5 550.2h0M256.3 549.9h0M254.4 551.0h0M262.9 550.2h0M251.4 551.5h0M252.0 552.1h0M263.8 550.2h0M262.4 551.6h0M263.0 551.7h0M252.0 549.8h0M260.8 551.0h0M259.2 552.3h0M264.3 551.4h0" stroke="#ef7b51" stroke-width="3.00" stroke-linecap="round" fill="none"/>
<path d="M277.1 547.7h0M270.6 551.3h0M273.4 551.2h0M273.5 548.9h0M269.9 547.8h0M274.6 550.3h0M282.0 550.3h0M269.0 550.2h0M278.6 550.3h0M268.0 550.4h0M275.2 551.1h0M277.6 550.5h0M280.7 550.8h0M282.1 550.9h0M278.0 546.9h0M269.7 549.6h0M267.1 551.4h0M279.9 551.3h0M275.1 551.7h0M276.0 551.5h0M280.1 551.5h0M270.3 549.7h0M275.5 551.2h0M270.4 550.6h0M268.9 551.3h0M281.4 550.9h0M281.6 551.4h0M267.4 551.4h0M278.0 549.8h0M279.8 551.3h0M267.5 551.9h0M276.3 550.0h0M281.7 550.5h0M279.5 551.1h0M281.2 551.9h0M274.2 549.2h0" stroke="#529cfa" stroke-width="3.00" stroke-linecap="round" fill="none"/>
<path d="M289.3 551.8h0M286.4 551.5h0M295.7 550.4h0M291.4 551.4h0M290.8 551.5h0M295.9 550.7h0M293.1 552.1h0M286.9 552.0h0M292.4 550.5h0M284.0 548.0h0M296.4 550.7h0M294.2 551.5h0M294.7 551.6h0M285.2 550.6h0M297.0 552.4h0M298.4 551.1h0M285.1 549.9h0M290.0 552.1h0M291.5 551.0h0M296.8 552.2h0M286.2 552.3h0M285.7 551.3h0M286.6 552.3h0M291.8 551.6h0M297.4 552.1h0M284.3 551.1h0M286.8 552.8h0M288.4 551.2h0M290.5 551.2h0M288.3 551.6h0M290.5 551.3h0M295.4 548.8h0M295.5 549.4h0M293.3 551.8h0M286.8 552.7h0M284.3 550.0h0" stroke="#ef7b51" stroke-width="3.00" stroke-linecap="round" fill="none"/>
<path d="M305.1 552.6h0M303.4 551.3h0M304.0 547.9h0M307.7 550.2h0M302.6 550.0h0M305.9 547.6h0M306.9 546.6h0M313.3 550.1h0M305.4 552.6h0M308.8 547.3h0M308.1 549.8h0M307.8 549.5h0M303.6 550.8h0M311.8 547.6h0M313.3 549.3h0M307.4 549.1h0M303.6 550.3h0M303.3 551.3h0M313.0 549.8h0M311.0 550.2h0M307.3 549.6h0M307.6 549.4h0M312.3 550.0h0M305.1 552.3h0M307.5 550.2h0M311.1 551.2h0M308.9 550.4h0M310.0 549.6h0M301.0 550.1h0M303.6 548.9h0M309.9 551.2h0M312.6 551.3h0" stroke="#529cfa" stroke-width="3.00" stroke-linecap="round" fill="none"/>
<path d="M326.1 550.8h0M323.6 550.0h0M325.3 550.0h0M322.1 553.1h0M325.6 553.0h0M318.4 551.4h0M322.9 553.6h0M320.7 550.7h0M318.0 551.2h0M324.3 549.6h0M319.3 550.3h0M326.6 553.7h0M323.4 552.3h0M320.1 550.0h0M321.1 549.9h0M323.9 550.2h0M323.5 552.0h0M319.2 550.9h0M318.8 550.9h0M323.3 551.8h0M320.7 551.4h0M321.6 551.6h0M321.3 550.6h0M321.0 550.4h0M317.4 551.8h0M318.5 552.1h0M321.9 552.3h0M320.4 551.4h0" stroke="#ef7b51" stroke-width="3.00" stroke-linecap="round" fill="none"/>
<path d="M108.1 527.9h0M63.7 542.2h0M57.3 543.4h0M59.6 545.1h0M70.1 543.1h0M75.1 541.3h0M52.0 547.4h0M121.5 543.1h0M109.0 547.1h0M114.5 545.5h0M119.7 547.8h0M121.8 543.1h0M157.6 545.7h0M163.4 545.5h0M151.5 548.0h0M197.7 544.8h0M308.8 532.2h0M204.7 540.9h0M197.7 544.9h0M200.9 544.5h0M206.2 544.5h0M235.8 543.8h0M246.8 543.4h0M271.4 542.3h0M279.8 543.8h0M301.4 541.9h0M305.7 542.3h0M314.1 540.2h0" stroke="#529cfa" stroke-width="3.00" stroke-linecap="round" fill="none"/>
<path d="M96.2 541.6h0M92.3 544.5h0M99.3 544.5h0M85.9 545.9h0M132.3 535.0h0M126.1 542.2h0M148.3 543.1h0M182.8 542.2h0M189.5 545.1h0M126.4 546.3h0M134.0 547.4h0M136.4 548.0h0M215.7 535.6h0M217.8 538.1h0M221.0 537.0h0M223.1 540.2h0M299.3 533.2h0M323.7 539.6h0M255.9 537.7h0M258.0 537.7h0M254.4 541.3h0M189.2 545.5h0M229.5 544.5h0M262.3 544.5h0M288.7 544.5h0" stroke="#ef7b51" stroke-width="3.00" stroke-linecap="round" fill="none"/>
<g stroke="#383838" stroke-width="1.0" fill="none">
<path d="M41.5 458.45 V584.90"/>
<path d="M36 584.40 H41.5"/>
<path d="M36 563.41 H41.5"/>
<path d="M36 542.42 H41.5"/>
<path d="M36 521.42 H41.5"/>
<path d="M36 500.43 H41.5"/>
<path d="M36 479.44 H41.5"/>
<path d="M36 458.45 H41.5"/>
<path d="M62.1 584.40 H321.9"/>
<path d="M62.6 584.40 V589.70"/>
<path d="M88.4 584.40 V589.70"/>
<path d="M113.8 584.40 V589.70"/>
<path d="M137.4 584.40 V589.70"/>
<path d="M161.1 584.40 V589.70"/>
<path d="M182.6 584.40 V589.70"/>
<path d="M203.4 584.40 V589.70"/>
<path d="M222.7 584.40 V589.70"/>
<path d="M241.3 584.40 V589.70"/>
<path d="M259.3 584.40 V589.70"/>
<path d="M275.7 584.40 V589.70"/>
<path d="M293.0 584.40 V589.70"/>
<path d="M309.2 584.40 V589.70"/>
<path d="M321.4 584.40 V589.70"/>
</g>
<g font-family="Liberation Sans, sans-serif" font-size="6.4" fill="#1e1e1e" text-anchor="end">
<text x="32.0" y="587.30">0</text>
<text x="32.0" y="566.31">2</text>
<text x="32.0" y="545.32">4</text>
<text x="32.0" y="524.32">6</text>
<text x="32.0" y="503.33">8</text>
<text x="32.0" y="482.34">10</text>
<text x="32.0" y="461.35">12</text>
</g>
<g font-family="Liberation Sans, sans-serif" font-size="6.4" fill="#1e1e1e" text-anchor="middle">
<text x="62.6" y="602.80">1</text>
<text x="88.4" y="602.80">2</text>
<text x="113.8" y="602.80">3</text>
<text x="137.4" y="602.80">4</text>
<text x="161.1" y="602.80">5</text>
<text x="182.6" y="602.80">7</text>
<text x="203.4" y="602.80">8</text>
<text x="222.7" y="602.80">9</text>
<text x="241.3" y="602.80">10</text>
<text x="259.3" y="602.80">11</text>
<text x="275.7" y="602.80">12</text>
<text x="293.0" y="602.80">13</text>
<text x="309.2" y="602.80">14</text>
<text x="321.4" y="602.80">15</text>
</g>
<text x="188.4" y="622.3" font-family="Liberation Sans, sans-serif" font-size="8.3" fill="#1e1e1e" text-anchor="middle">Chromosome</text>
<g transform="translate(7.9 434.0) rotate(-90)" font-family="Liberation Sans, sans-serif" font-size="8.3" fill="#1e1e1e">
<text x="-106.1" y="0">−</text>
<text x="-99.4" y="0">log</text>
<text x="-87.6" y="1.9" font-size="5.9">10</text>
<text x="-80.4" y="0">(</text>
<text x="-77.4" y="0" font-style="italic">p</text>
<text x="-71.6" y="0">)</text>
</g>
<text x="188.2" y="442.1" font-family="Liberation Sans, sans-serif" font-weight="bold" font-size="10.5" fill="#000" text-anchor="middle">e.</text>
<path d="M405.2 584.9 L403.9 583.7 L403.9 551.9 L404.9 551.7 L405.9 550.8 L406.9 550.9 L407.9 551.5 L408.9 550.5 L409.9 551.6 L411.0 550.6 L412.0 550.3 L413.0 550.9 L414.0 551.1 L415.0 551.5 L416.0 551.6 L417.0 551.1 L418.0 551.0 L419.0 550.5 L420.0 550.0 L421.0 551.4 L422.0 550.8 L423.0 550.9 L424.1 551.5 L425.1 550.8 L426.1 550.2 L427.1 550.6 L428.1 551.6 L429.1 552.0 L430.1 551.0 L430.1 583.7 L428.8 584.9Z" fill="#529cfa"/>
<path d="M430.8 584.9 L429.5 583.7 L429.5 539.7 L430.5 540.8 L431.6 540.1 L432.6 539.4 L433.6 540.6 L434.7 540.5 L435.7 539.6 L436.7 540.6 L437.8 540.7 L438.8 540.9 L439.8 539.9 L440.9 539.3 L441.9 540.3 L443.0 539.7 L444.0 540.1 L445.0 540.1 L446.1 540.6 L447.1 539.7 L448.1 539.5 L449.2 539.5 L450.2 540.7 L451.2 540.5 L452.3 540.0 L453.3 539.1 L454.3 540.5 L455.4 540.7 L456.4 539.8 L456.4 583.7 L455.1 584.9Z" fill="#ef7b51"/>
<path d="M457.1 584.9 L455.8 583.7 L455.8 543.9 L456.8 543.0 L457.8 543.6 L458.8 544.3 L459.8 544.3 L460.8 543.7 L461.8 543.0 L462.8 543.8 L463.8 543.2 L464.8 543.7 L465.8 543.1 L466.8 543.6 L467.8 543.5 L468.9 543.1 L469.9 543.3 L470.9 544.2 L471.9 544.3 L472.9 544.4 L473.9 543.4 L474.9 542.8 L475.9 544.0 L476.9 544.2 L477.9 543.3 L478.9 542.7 L479.9 542.4 L480.9 543.3 L480.9 583.7 L479.6 584.9Z" fill="#529cfa"/>
<path d="M481.6 584.9 L480.3 583.7 L480.3 541.8 L481.3 541.9 L482.4 541.9 L483.4 542.8 L484.5 542.6 L485.5 541.7 L486.5 542.4 L487.6 541.5 L488.6 541.6 L489.7 542.4 L490.7 542.0 L491.7 541.7 L492.8 541.3 L493.8 541.8 L494.8 542.3 L495.9 542.8 L496.9 542.2 L498.0 541.8 L499.0 542.6 L500.0 542.9 L501.1 543.1 L502.1 542.8 L503.2 542.6 L504.2 542.0 L504.2 583.7 L502.9 584.9Z" fill="#ef7b51"/>
<path d="M504.9 584.9 L503.6 583.7 L503.6 543.6 L504.6 544.6 L505.6 543.5 L506.7 544.4 L507.7 543.8 L508.7 544.8 L509.7 544.1 L510.8 544.9 L511.8 544.1 L512.8 543.5 L513.8 543.3 L514.8 543.4 L515.9 543.0 L516.9 542.9 L517.9 543.3 L518.9 543.3 L519.9 543.6 L521.0 544.2 L522.0 543.4 L523.0 543.3 L524.0 543.1 L525.1 543.2 L526.1 544.2 L527.1 544.8 L527.1 583.7 L525.8 584.9Z" fill="#529cfa"/>
<path d="M527.8 584.9 L526.5 583.7 L526.5 541.5 L527.5 540.4 L528.5 540.8 L529.5 540.2 L530.6 540.1 L531.6 540.1 L532.6 541.0 L533.6 540.8 L534.6 541.2 L535.6 541.5 L536.6 541.0 L537.7 541.6 L538.7 540.6 L539.7 540.5 L540.7 540.3 L541.7 541.0 L542.7 540.4 L543.7 541.2 L544.8 540.3 L545.8 540.7 L546.8 540.5 L547.8 540.4 L547.8 583.7 L546.5 584.9Z" fill="#ef7b51"/>
<path d="M548.5 584.9 L547.2 583.7 L547.2 548.9 L548.2 548.7 L549.2 549.8 L550.3 550.1 L551.3 548.9 L552.3 549.7 L553.3 548.8 L554.3 549.5 L555.4 549.9 L556.4 549.0 L557.4 548.3 L558.4 548.8 L559.4 548.9 L560.4 549.7 L561.5 548.4 L562.5 549.4 L563.5 548.5 L564.5 548.0 L565.5 549.2 L566.6 548.8 L567.6 549.0 L568.6 548.2 L568.6 583.7 L567.3 584.9Z" fill="#529cfa"/>
<path d="M569.3 584.9 L568.0 583.7 L568.0 544.8 L569.0 545.1 L570.0 544.6 L571.0 544.9 L572.0 545.0 L573.1 545.4 L574.1 544.1 L575.1 545.0 L576.1 545.5 L577.1 544.6 L578.1 544.7 L579.1 544.4 L580.1 543.8 L581.1 543.8 L582.1 545.0 L583.2 545.0 L584.2 544.7 L585.2 544.4 L586.2 545.1 L587.2 544.5 L587.2 583.7 L585.9 584.9Z" fill="#ef7b51"/>
<path d="M587.9 584.9 L586.6 583.7 L586.6 539.5 L587.6 540.1 L588.7 540.1 L589.7 540.7 L590.7 540.2 L591.8 540.6 L592.8 540.8 L593.8 540.1 L594.9 539.7 L595.9 540.1 L596.9 539.3 L598.0 540.5 L599.0 539.5 L600.0 540.3 L601.1 539.5 L602.1 539.2 L603.1 540.3 L604.2 540.5 L605.2 540.0 L605.2 583.7 L603.9 584.9Z" fill="#529cfa"/>
<path d="M605.9 584.9 L604.6 583.7 L604.6 543.3 L605.6 544.3 L606.7 544.0 L607.7 543.9 L608.7 544.4 L609.8 544.4 L610.8 544.0 L611.8 544.0 L612.9 542.9 L613.9 544.2 L615.0 544.3 L616.0 543.1 L617.0 544.1 L618.1 543.6 L619.1 543.4 L620.1 543.3 L621.2 543.8 L622.2 543.4 L622.2 583.7 L620.9 584.9Z" fill="#ef7b51"/>
<path d="M622.9 584.9 L621.6 583.7 L621.6 546.0 L622.6 546.2 L623.7 545.3 L624.7 546.2 L625.7 545.7 L626.7 546.0 L627.8 545.3 L628.8 545.6 L629.8 545.7 L630.9 545.8 L631.9 546.6 L632.9 546.4 L634.0 546.9 L635.0 547.1 L636.0 546.2 L637.0 546.4 L638.1 546.0 L639.1 545.3 L639.1 583.7 L637.8 584.9Z" fill="#529cfa"/>
<path d="M639.8 584.9 L638.5 583.7 L638.5 541.5 L639.5 541.5 L640.6 542.1 L641.6 541.8 L642.6 541.2 L643.6 541.7 L644.7 541.3 L645.7 542.4 L646.7 541.9 L647.8 542.3 L648.8 542.0 L649.8 542.2 L650.9 542.9 L651.9 541.8 L652.9 541.5 L653.9 541.0 L655.0 541.6 L656.0 541.5 L656.0 583.7 L654.7 584.9Z" fill="#ef7b51"/>
<path d="M656.7 584.9 L655.4 583.7 L655.4 547.6 L656.4 547.4 L657.5 548.2 L658.5 547.2 L659.5 548.3 L660.6 548.5 L661.6 548.3 L662.6 548.9 L663.7 547.7 L664.7 547.9 L665.7 548.5 L666.8 549.0 L667.8 547.6 L668.8 547.0 L669.9 548.0 L670.9 548.8 L670.9 583.7 L669.6 584.9Z" fill="#529cfa"/>
<path d="M671.6 584.9 L670.3 583.7 L670.3 547.2 L671.3 547.1 L672.3 548.3 L673.4 547.4 L674.4 546.9 L675.4 548.4 L676.4 547.5 L677.5 547.9 L678.5 547.2 L679.5 547.8 L680.5 548.6 L681.6 547.5 L682.6 548.3 L683.6 548.4 L683.6 583.7 L682.3 584.9Z" fill="#ef7b51"/>
<path d="M413.4 547.8h0M420.7 551.8h0M413.5 551.2h0M417.3 545.4h0M420.4 550.9h0M426.7 547.1h0M412.1 550.4h0M419.6 551.8h0M426.0 547.0h0M405.7 547.0h0M412.2 550.3h0M413.6 537.5h0M406.2 550.0h0M427.2 551.8h0M424.1 547.1h0M424.6 541.2h0M410.2 542.6h0M413.4 543.0h0M405.0 551.7h0M407.8 549.6h0M418.7 544.3h0M428.7 539.9h0M408.6 546.5h0M406.8 538.6h0M426.6 547.3h0M421.8 551.4h0M426.5 547.9h0M406.8 538.2h0M424.0 540.5h0M424.0 551.5h0M425.9 538.6h0M412.9 537.7h0M422.4 549.3h0M410.9 549.8h0M412.8 550.1h0M427.4 547.2h0M423.3 540.0h0M418.9 547.8h0M428.3 547.2h0M420.8 549.3h0M426.7 538.3h0M413.1 543.9h0M412.0 547.5h0M424.4 542.5h0M406.0 541.6h0M417.2 550.1h0M414.9 542.1h0M410.1 551.7h0M426.7 542.1h0M416.4 546.4h0M410.8 537.7h0M408.0 543.1h0M419.9 549.7h0M423.5 543.5h0M405.4 537.8h0M428.2 540.2h0M413.2 543.0h0M416.8 548.2h0M422.2 550.4h0M415.6 550.1h0M423.9 541.6h0M425.3 540.7h0M424.5 547.8h0M421.5 551.6h0M425.4 541.9h0M419.6 541.1h0M427.1 545.2h0M409.7 544.8h0M410.5 539.6h0M421.5 542.7h0M420.9 539.3h0M418.5 542.8h0M422.8 550.6h0M408.8 536.9h0M427.0 537.0h0M415.1 542.1h0M421.9 541.2h0M425.5 551.8h0M425.8 547.3h0M422.7 548.4h0M413.5 535.6h0M418.3 534.0h0M422.4 529.9h0M413.1 526.8h0M412.5 532.9h0M411.6 529.5h0M426.2 532.6h0M408.1 535.7h0M420.1 535.6h0M407.4 535.5h0M419.9 533.5h0M420.3 535.6h0" stroke="#529cfa" stroke-width="3.00" stroke-linecap="round" fill="none"/>
<path d="M451.0 537.0h0M438.2 540.3h0M449.8 539.3h0M442.3 537.3h0M454.1 532.9h0M443.8 539.8h0M436.8 537.7h0M443.1 540.7h0M444.2 538.7h0M453.3 539.0h0M435.0 539.8h0M436.1 538.0h0M431.3 534.5h0M452.6 540.4h0M442.5 531.3h0M445.8 533.5h0M440.6 531.3h0M439.3 539.2h0M437.5 533.9h0M431.6 532.5h0M441.4 537.1h0M451.8 539.2h0M445.5 538.9h0M438.5 540.6h0M432.4 540.8h0M431.2 535.7h0M436.1 533.1h0M452.0 537.6h0M432.1 531.3h0M441.0 540.3h0M441.8 540.4h0M449.4 531.9h0M433.4 535.0h0M434.8 536.6h0M451.9 539.5h0M453.4 532.7h0M434.1 540.8h0M437.8 535.0h0M431.3 535.7h0M447.4 535.0h0M437.9 532.1h0M435.0 540.0h0M437.7 538.6h0M442.5 537.7h0M444.0 532.1h0M443.1 540.7h0M441.8 540.6h0M450.6 534.9h0M445.4 540.0h0M436.9 540.0h0M439.4 536.2h0M431.9 539.5h0M430.8 540.6h0M441.2 531.9h0M445.3 539.4h0M432.4 529.8h0M452.3 528.1h0M447.6 529.1h0M441.6 529.2h0M435.8 529.2h0M441.7 516.0h0M435.6 529.2h0M439.9 518.1h0M433.8 527.5h0M453.0 523.2h0M438.6 521.9h0M440.2 525.1h0M438.6 524.2h0" stroke="#ef7b51" stroke-width="3.00" stroke-linecap="round" fill="none"/>
<path d="M475.8 543.5h0M468.2 538.9h0M477.1 542.3h0M471.7 543.6h0M474.7 534.6h0M459.0 538.0h0M473.4 539.6h0M465.8 530.1h0M457.1 538.8h0M459.3 541.1h0M461.7 529.7h0M461.4 529.1h0M474.5 541.3h0M467.3 543.7h0M470.4 534.4h0M478.9 536.1h0M458.8 531.1h0M471.0 537.4h0M473.3 542.2h0M476.7 540.5h0M459.8 542.2h0M475.4 539.6h0M467.0 544.3h0M462.3 532.2h0M472.6 538.3h0M462.3 536.6h0M464.7 537.0h0M459.6 544.0h0M476.4 533.2h0M458.9 532.0h0M472.3 544.3h0M475.5 543.3h0M462.0 542.7h0M478.6 539.0h0M476.2 537.4h0M471.2 541.4h0M473.7 534.3h0M467.6 540.1h0M460.6 540.5h0M459.7 531.5h0M464.7 541.7h0M461.6 543.8h0M472.3 540.9h0M467.4 540.1h0M472.4 529.1h0M478.5 535.7h0M467.8 543.1h0M479.1 537.5h0M478.9 531.6h0M471.7 540.1h0M465.4 541.3h0M459.4 533.5h0M463.6 542.2h0M457.4 534.0h0M474.2 530.9h0M478.6 533.2h0M457.0 530.2h0M476.4 543.8h0M462.4 535.5h0M471.3 544.3h0M479.1 544.0h0M464.1 536.2h0M466.9 542.3h0M460.3 541.4h0M457.0 531.8h0M472.7 535.9h0M461.3 541.6h0M470.4 530.8h0M472.4 542.5h0M460.8 544.0h0M473.9 539.8h0M475.5 530.2h0M478.7 544.2h0M469.9 544.2h0M469.9 543.4h0M463.3 544.2h0M473.0 531.0h0M478.1 531.7h0M476.2 540.2h0M470.0 525.6h0M462.6 525.5h0M463.1 521.1h0M470.5 522.4h0M472.0 526.1h0M459.2 527.8h0M459.1 526.3h0M478.9 527.7h0M464.7 527.7h0M469.8 522.5h0M475.8 522.9h0M472.8 521.4h0" stroke="#529cfa" stroke-width="3.00" stroke-linecap="round" fill="none"/>
<path d="M489.0 534.5h0M494.1 536.0h0M500.8 542.4h0M500.8 533.7h0M497.7 534.9h0M500.3 541.5h0M481.5 540.6h0M496.9 539.9h0M493.8 541.3h0M481.3 541.3h0M486.5 533.1h0M489.9 542.6h0M482.4 537.6h0M499.3 533.4h0M493.1 542.0h0M488.5 540.8h0M482.1 542.5h0M495.7 540.0h0M487.7 533.2h0M487.6 540.7h0M493.2 540.5h0M500.1 542.3h0M487.5 536.8h0M497.4 540.4h0M497.7 538.0h0M484.2 532.9h0M481.3 538.3h0M488.7 542.7h0M494.0 536.2h0M499.5 534.3h0M493.5 542.7h0M502.4 536.7h0M490.2 540.0h0M485.3 532.9h0M497.9 536.9h0M500.4 534.3h0M495.0 542.6h0M492.2 539.7h0M484.3 541.8h0M483.5 536.2h0M481.6 537.3h0M493.1 536.7h0M488.2 537.9h0M498.3 533.0h0M498.1 540.1h0M500.3 538.3h0M489.5 537.4h0M487.2 537.0h0M494.8 526.6h0M490.5 527.6h0M494.0 530.0h0M486.9 521.3h0M485.4 531.2h0M484.8 528.5h0M499.6 527.4h0M493.3 520.3h0M483.0 531.2h0M499.8 531.7h0M488.0 531.7h0" stroke="#ef7b51" stroke-width="3.00" stroke-linecap="round" fill="none"/>
<path d="M512.9 536.0h0M517.6 534.4h0M514.3 542.8h0M510.1 542.7h0M519.5 534.0h0M512.0 537.1h0M524.4 538.4h0M517.5 539.6h0M508.5 544.6h0M509.3 539.4h0M523.5 534.7h0M520.6 544.7h0M513.6 536.2h0M524.1 544.7h0M523.7 542.2h0M523.7 544.4h0M507.4 542.1h0M510.6 540.9h0M505.4 540.5h0M512.5 544.5h0M517.1 536.7h0M507.3 542.1h0M523.1 534.4h0M511.7 533.9h0M509.2 542.1h0M509.3 539.7h0M519.6 537.0h0M513.6 534.3h0M522.3 544.0h0M522.6 535.7h0M515.3 544.4h0M522.6 543.8h0M507.4 540.5h0M508.8 535.6h0M514.8 543.6h0M519.0 541.5h0M508.9 536.1h0M514.8 538.2h0M511.2 535.8h0M506.3 534.0h0M522.2 542.4h0M514.8 540.8h0M519.0 541.2h0M525.3 539.3h0M511.3 537.3h0M524.4 544.7h0M504.5 536.9h0M520.8 535.8h0M517.5 538.4h0M508.1 536.3h0M524.7 535.1h0M520.7 542.9h0M517.6 532.4h0M518.2 529.9h0M507.3 523.9h0M517.2 531.5h0M515.5 532.7h0M515.8 526.5h0M514.7 532.0h0M507.1 532.2h0M524.0 525.6h0M509.1 528.0h0M508.2 531.7h0" stroke="#529cfa" stroke-width="3.00" stroke-linecap="round" fill="none"/>
<path d="M530.6 539.1h0M532.1 538.8h0M538.6 533.6h0M534.1 541.4h0M529.0 541.2h0M529.9 537.3h0M541.4 532.4h0M539.0 536.5h0M527.7 539.0h0M535.9 535.1h0M541.6 539.6h0M532.6 532.0h0M534.8 533.3h0M528.4 537.0h0M545.5 538.0h0M544.4 533.5h0M536.2 537.4h0M538.2 536.1h0M530.7 538.5h0M529.4 541.0h0M533.4 541.7h0M541.4 541.2h0M534.6 532.6h0M544.1 534.4h0M534.8 534.6h0M527.7 537.7h0M528.2 537.7h0M529.9 535.6h0M535.3 541.0h0M540.9 541.3h0M529.9 537.3h0M529.6 535.2h0M532.2 535.0h0M540.2 538.8h0M527.9 539.3h0M531.1 541.3h0M541.7 535.3h0M542.5 535.8h0M537.5 541.6h0M544.8 540.0h0M539.7 535.4h0M542.2 532.6h0M540.6 541.4h0M543.2 528.7h0M532.1 530.5h0M536.4 528.8h0M537.9 527.9h0M545.7 530.9h0M540.8 522.5h0M537.6 529.8h0M543.9 520.0h0M532.7 529.3h0M536.9 530.5h0" stroke="#ef7b51" stroke-width="3.00" stroke-linecap="round" fill="none"/>
<path d="M563.1 546.6h0M549.9 549.1h0M553.8 546.7h0M551.2 547.9h0M557.1 548.1h0M553.8 546.9h0M566.7 549.6h0M553.8 548.4h0M555.9 549.7h0M558.2 547.6h0M557.6 548.3h0M550.9 547.0h0M559.1 541.1h0M557.8 541.1h0M558.1 544.8h0M550.2 545.5h0M548.1 541.1h0M558.7 549.1h0M566.6 546.7h0M555.0 549.5h0M555.8 543.8h0M551.2 546.0h0M550.2 541.3h0M552.8 549.5h0M550.4 547.2h0M548.5 544.5h0M550.0 541.8h0M553.7 541.6h0M552.1 546.7h0M555.4 546.6h0M566.6 547.2h0M554.6 543.8h0M561.8 546.2h0M558.1 549.1h0M553.2 546.0h0M558.2 549.4h0M565.5 544.2h0M562.1 545.7h0M554.1 543.5h0M548.8 539.4h0M551.9 536.4h0M562.2 535.1h0M561.2 526.0h0M559.2 536.6h0M561.1 538.1h0M565.6 539.8h0M564.1 531.2h0M551.2 533.7h0M556.5 537.2h0" stroke="#529cfa" stroke-width="3.00" stroke-linecap="round" fill="none"/>
<path d="M578.6 539.0h0M582.4 542.7h0M576.1 539.1h0M569.7 542.8h0M583.0 537.7h0M576.1 535.5h0M577.0 544.0h0M569.4 545.1h0M583.6 543.8h0M573.7 535.4h0M574.2 543.5h0M584.6 545.0h0M572.9 537.4h0M580.1 544.5h0M583.4 544.9h0M579.2 539.4h0M584.5 544.1h0M571.3 538.4h0M582.9 543.6h0M576.6 535.8h0M573.6 538.5h0M572.8 538.6h0M574.5 544.7h0M577.6 536.6h0M575.5 542.8h0M581.1 544.2h0M585.7 544.2h0M578.9 544.6h0M575.3 542.0h0M575.1 539.8h0M580.0 538.4h0M568.9 545.1h0M569.4 544.4h0M570.2 545.3h0M584.4 540.9h0M576.3 535.1h0M574.8 539.2h0M585.0 542.8h0M579.0 538.6h0M569.8 540.3h0M574.2 542.2h0M572.8 530.9h0M585.8 532.7h0M575.6 533.4h0M584.9 534.0h0M570.0 529.4h0M575.7 531.8h0M583.4 531.6h0M583.8 533.0h0M572.0 527.7h0" stroke="#ef7b51" stroke-width="3.00" stroke-linecap="round" fill="none"/>
<path d="M595.6 540.1h0M589.6 535.0h0M598.5 534.1h0M595.5 540.1h0M596.8 534.3h0M591.3 537.8h0M590.1 537.9h0M592.0 536.2h0M590.6 540.0h0M599.7 539.5h0M589.1 536.5h0M588.8 539.3h0M599.1 538.2h0M602.2 535.2h0M595.6 533.6h0M603.3 538.6h0M597.0 540.8h0M600.4 538.4h0M593.4 535.9h0M602.9 540.2h0M596.9 540.6h0M587.9 540.2h0M592.8 540.0h0M593.0 537.2h0M588.1 537.2h0M599.1 539.9h0M598.4 535.6h0M595.4 539.6h0M594.7 539.6h0M588.9 539.2h0M594.1 531.7h0M596.6 531.9h0M590.9 529.0h0M598.3 530.9h0M595.8 528.5h0M600.4 529.7h0M593.3 530.4h0M599.8 527.6h0M596.0 528.6h0" stroke="#529cfa" stroke-width="3.00" stroke-linecap="round" fill="none"/>
<path d="M613.1 538.9h0M610.3 543.2h0M613.4 540.8h0M613.9 541.1h0M608.3 542.3h0M613.9 536.1h0M611.8 541.6h0M613.1 542.4h0M618.1 542.8h0M612.9 539.1h0M614.5 537.9h0M609.5 537.0h0M619.0 537.4h0M620.0 544.1h0M606.3 538.3h0M619.9 536.2h0M606.6 540.7h0M607.7 541.6h0M607.0 539.7h0M620.4 544.2h0M611.5 537.2h0M617.6 536.6h0M610.2 542.6h0M608.0 542.7h0M609.1 542.2h0M618.4 544.0h0M615.0 537.0h0M618.2 543.6h0M606.7 538.6h0M616.7 544.3h0M608.5 534.6h0M617.5 534.4h0M618.4 527.4h0M613.2 532.2h0M612.4 534.7h0M611.4 526.9h0M607.3 523.7h0M613.1 533.2h0" stroke="#ef7b51" stroke-width="3.00" stroke-linecap="round" fill="none"/>
<path d="M636.6 542.6h0M631.0 546.8h0M635.5 545.1h0M630.2 542.0h0M631.1 543.9h0M625.1 545.5h0M637.0 539.8h0M627.6 542.2h0M623.5 544.4h0M625.0 540.1h0M634.5 538.5h0M632.7 546.6h0M626.1 540.6h0M630.7 545.8h0M632.9 545.4h0M625.7 541.1h0M623.7 540.1h0M623.0 542.7h0M631.7 539.5h0M623.0 544.3h0M632.8 546.7h0M632.8 540.2h0M634.3 538.1h0M626.6 543.1h0M631.0 539.5h0M625.7 542.4h0M634.1 539.0h0M633.6 545.4h0M632.1 539.3h0M634.3 546.8h0M631.0 543.5h0M624.9 529.8h0M627.3 531.7h0M635.9 531.4h0M627.9 533.1h0M628.3 536.2h0M627.8 535.6h0M624.9 533.5h0M628.5 536.8h0" stroke="#529cfa" stroke-width="3.00" stroke-linecap="round" fill="none"/>
<path d="M641.5 540.9h0M651.0 534.4h0M640.5 542.7h0M652.0 537.0h0M649.7 540.0h0M646.0 542.7h0M648.0 539.0h0M653.8 536.3h0M649.4 535.8h0M650.3 540.7h0M647.5 535.7h0M646.6 534.1h0M644.2 538.2h0M648.8 540.2h0M644.8 541.2h0M654.5 537.3h0M646.3 534.0h0M648.4 539.5h0M645.2 542.8h0M639.8 541.9h0M646.1 541.6h0M641.0 539.0h0M651.3 537.7h0M641.9 539.1h0M652.1 542.4h0M642.5 538.4h0M648.0 537.2h0M643.1 541.1h0M649.7 539.8h0M643.1 538.7h0M639.9 536.4h0M640.7 529.0h0M651.6 531.9h0M650.8 528.3h0M646.2 529.1h0M652.4 530.2h0M641.1 532.8h0M649.3 526.9h0M648.7 527.6h0" stroke="#ef7b51" stroke-width="3.00" stroke-linecap="round" fill="none"/>
<path d="M663.6 545.3h0M666.2 545.0h0M669.4 547.7h0M668.3 542.9h0M667.9 542.5h0M664.6 548.0h0M656.3 543.9h0M664.8 546.8h0M668.0 548.5h0M656.4 540.3h0M668.5 546.8h0M668.2 548.6h0M664.8 548.4h0M668.2 543.2h0M668.8 542.8h0M663.7 544.5h0M656.9 547.5h0M656.8 542.7h0M663.4 544.9h0M657.7 546.7h0M662.6 543.7h0M659.7 544.1h0M666.5 548.8h0M662.9 539.8h0M667.7 548.7h0M666.8 541.0h0M665.1 542.5h0M666.6 544.5h0M666.0 538.3h0M658.8 535.8h0M660.7 538.4h0M661.9 530.1h0M667.9 538.7h0M660.4 535.6h0M665.9 537.7h0" stroke="#529cfa" stroke-width="3.00" stroke-linecap="round" fill="none"/>
<path d="M681.4 539.6h0M676.0 542.6h0M682.3 546.1h0M680.8 538.8h0M677.7 538.8h0M673.0 538.6h0M676.6 540.5h0M681.4 547.2h0M675.3 545.0h0M674.7 548.0h0M681.6 544.5h0M677.0 547.7h0M674.6 547.2h0M682.1 539.2h0M680.7 546.3h0M676.7 540.7h0M676.5 543.1h0M679.0 547.4h0M681.4 544.0h0M680.8 545.4h0M682.7 538.3h0M671.9 545.2h0M679.3 545.1h0M674.0 543.9h0M677.3 548.8h0M675.6 544.1h0M676.4 547.4h0M682.2 543.7h0M680.3 545.0h0M676.3 547.3h0M672.7 530.0h0M671.5 530.1h0M675.2 533.4h0M675.6 535.3h0M678.1 536.2h0M678.0 525.8h0" stroke="#ef7b51" stroke-width="3.00" stroke-linecap="round" fill="none"/>
<path d="M412.7 513.6h0M410.8 521.6h0M405.5 526.3h0M417.0 526.6h0M463.2 503.2h0M470.5 504.9h0M470.8 508.7h0M479.1 498.2h0M479.4 508.3h0M466.4 519.8h0M463.5 523.1h0M470.8 520.5h0M473.6 518.4h0M430.3 529.2h0M479.3 497.9h0M480.5 508.3h0M507.9 510.4h0M514.3 506.8h0M520.1 513.3h0M524.8 510.1h0M510.4 518.8h0M514.3 519.4h0M512.8 522.0h0M524.8 518.8h0M518.3 526.3h0M519.8 529.2h0M514.7 532.1h0M513.3 535.0h0M550.8 511.2h0M552.3 512.6h0M550.8 521.3h0M479.3 522.7h0M477.9 526.3h0M480.8 529.2h0M589.7 502.1h0M589.7 507.3h0M590.7 509.0h0M596.2 507.3h0M594.0 512.2h0M595.5 519.4h0M602.7 520.3h0M600.3 530.6h0M600.3 536.4h0M604.9 538.6h0M551.4 511.2h0M552.2 512.6h0M551.2 521.3h0M564.2 520.8h0M554.3 529.9h0M558.7 530.6h0M568.8 529.2h0M568.8 532.1h0M627.3 504.9h0M623.6 527.5h0M628.0 528.5h0M625.8 533.5h0M628.7 533.5h0M626.9 505.0h0M637.4 518.2h0M623.9 527.5h0M629.4 528.3h0M631.1 530.0h0M626.1 533.3h0M627.7 533.9h0M668.2 521.6h0M670.4 521.6h0M667.3 524.1h0M664.3 527.1h0M663.1 529.1h0M664.0 532.5h0M658.6 531.7h0M658.6 533.9h0M635.3 535.9h0M632.0 537.6h0M628.6 538.4h0" stroke="#529cfa" stroke-width="3.00" stroke-linecap="round" fill="none"/>
<path d="M432.9 483.0h0M436.1 499.2h0M432.9 509.3h0M439.0 513.0h0M432.9 515.9h0M436.1 516.9h0M449.4 508.3h0M449.4 510.4h0M454.2 511.9h0M453.7 519.1h0M455.6 524.6h0M436.1 519.8h0M434.7 523.4h0M439.0 522.0h0M447.7 523.4h0M449.8 524.9h0M444.0 531.4h0M449.1 529.9h0M454.2 531.4h0M484.4 512.2h0M495.2 517.7h0M493.8 521.3h0M496.4 527.0h0M498.1 530.6h0M502.4 530.6h0M503.2 534.7h0M488.0 532.1h0M483.7 535.7h0M489.4 537.9h0M533.2 495.3h0M532.5 503.2h0M538.5 507.8h0M542.6 505.8h0M542.9 516.9h0M544.3 516.9h0M541.4 519.1h0M545.8 522.0h0M540.0 524.6h0M534.2 531.4h0M529.2 533.5h0M542.1 530.6h0M574.8 500.6h0M578.2 513.0h0M582.9 515.5h0M578.2 517.4h0M581.0 520.8h0M572.4 515.5h0M571.7 518.4h0M569.5 524.2h0M575.3 524.6h0M577.4 524.2h0M573.1 526.3h0M609.9 495.7h0M609.9 499.6h0M614.7 516.5h0M614.7 519.8h0M609.2 523.7h0M612.4 524.9h0M612.1 527.0h0M609.2 530.6h0M612.4 530.6h0M615.0 532.4h0M581.8 529.2h0M578.9 532.4h0M584.7 533.5h0M570.9 537.9h0M642.4 496.3h0M609.7 495.4h0M609.7 499.6h0M614.8 517.0h0M614.8 519.4h0M609.2 523.7h0M612.1 524.1h0M611.7 526.6h0M645.4 511.1h0M646.6 514.3h0M643.8 522.1h0M652.7 523.2h0M648.8 527.8h0M650.8 529.1h0M647.1 529.1h0M644.6 532.2h0M672.4 513.1h0M674.4 514.8h0M676.6 521.6h0M677.8 524.1h0M675.8 527.8h0M672.4 533.3h0M675.8 534.2h0M681.7 543.5h0" stroke="#ef7b51" stroke-width="3.00" stroke-linecap="round" fill="none"/>
<path d="M640.0 465.1h0M640.0 467.3h0M640.0 471.8h0M640.0 474.4h0M640.0 476.3h0M640.0 478.3h0M640.0 481.5h0M640.0 485.3h0M640.0 487.2h0M640.0 491.2h0M640.0 493.8h0" stroke="#ef7b51" stroke-width="3.00" stroke-linecap="round" fill="none"/>
<path d="M639.8 496.0h0M639.9 497.6h0M640.1 499.3h0M639.7 500.2h0M639.9 502.2h0M640.3 503.4h0M640.2 504.8h0M640.1 506.3h0M640.1 507.4h0M640.0 509.4h0M640.1 511.3h0M640.2 512.2h0M639.9 513.9h0M640.2 514.8h0M640.1 516.3h0M640.1 518.3h0M639.9 520.4h0M640.0 522.4h0M640.2 524.5h0M639.8 525.5h0M640.3 526.6h0M640.1 528.0h0M640.0 529.3h0M639.9 530.7h0M640.1 532.3h0M640.1 534.4h0M640.2 536.5h0M640.1 538.7h0M640.2 539.8h0" stroke="#ef7b51" stroke-width="3.00" stroke-linecap="round" fill="none"/>
<path d="M589.5 513.3h0M589.6 514.2h0M589.4 515.2h0M590.0 516.5h0M589.9 518.4h0M589.7 519.5h0M589.5 520.6h0M589.5 521.5h0M589.9 523.5h0M589.9 525.4h0M589.6 526.4h0M589.8 528.0h0M589.9 529.9h0M589.8 530.8h0M589.7 532.5h0M589.7 533.5h0M590.0 534.4h0M589.7 536.3h0M589.9 537.5h0M589.9 539.0h0" stroke="#529cfa" stroke-width="3.00" stroke-linecap="round" fill="none"/>
<g stroke="#383838" stroke-width="1.0" fill="none">
<path d="M396.9 458.40 V575.80"/>
<path d="M391.5 575.80 H396.9"/>
<path d="M391.5 559.03 H396.9"/>
<path d="M391.5 542.26 H396.9"/>
<path d="M391.5 525.49 H396.9"/>
<path d="M391.5 508.71 H396.9"/>
<path d="M391.5 491.94 H396.9"/>
<path d="M391.5 475.17 H396.9"/>
<path d="M391.5 458.40 H396.9"/>
<path d="M417.7 584.40 H677.5"/>
<path d="M418.2 584.40 V589.70"/>
<path d="M444.0 584.40 V589.70"/>
<path d="M469.4 584.40 V589.70"/>
<path d="M493.0 584.40 V589.70"/>
<path d="M516.7 584.40 V589.70"/>
<path d="M538.2 584.40 V589.70"/>
<path d="M559.0 584.40 V589.70"/>
<path d="M578.3 584.40 V589.70"/>
<path d="M596.9 584.40 V589.70"/>
<path d="M614.9 584.40 V589.70"/>
<path d="M631.3 584.40 V589.70"/>
<path d="M648.6 584.40 V589.70"/>
<path d="M664.8 584.40 V589.70"/>
<path d="M677.0 584.40 V589.70"/>
</g>
<g font-family="Liberation Sans, sans-serif" font-size="6.4" fill="#1e1e1e" text-anchor="end">
<text x="387.4" y="578.70">10</text>
<text x="387.4" y="561.93">20</text>
<text x="387.4" y="545.16">30</text>
<text x="387.4" y="528.39">40</text>
<text x="387.4" y="511.61">50</text>
<text x="387.4" y="494.84">60</text>
<text x="387.4" y="478.07">70</text>
<text x="387.4" y="461.30">80</text>
</g>
<g font-family="Liberation Sans, sans-serif" font-size="6.4" fill="#1e1e1e" text-anchor="middle">
<text x="418.2" y="602.80">1</text>
<text x="444.0" y="602.80">2</text>
<text x="469.4" y="602.80">3</text>
<text x="493.0" y="602.80">4</text>
<text x="516.7" y="602.80">5</text>
<text x="538.2" y="602.80">7</text>
<text x="559.0" y="602.80">8</text>
<text x="578.3" y="602.80">9</text>
<text x="596.9" y="602.80">10</text>
<text x="614.9" y="602.80">11</text>
<text x="631.3" y="602.80">12</text>
<text x="648.6" y="602.80">13</text>
<text x="664.8" y="602.80">14</text>
<text x="677.0" y="602.80">15</text>
</g>
<text x="544.0" y="622.3" font-family="Liberation Sans, sans-serif" font-size="8.3" fill="#1e1e1e" text-anchor="middle">Chromosome</text>
<text transform="translate(365.1 522.6) rotate(-90)" font-family="Liberation Sans, sans-serif" font-size="8.15" fill="#1e1e1e" text-anchor="middle">Difference in methylation %</text>
<text x="543.8" y="442.1" font-family="Liberation Sans, sans-serif" font-weight="bold" font-size="10.5" fill="#000" text-anchor="middle">f.</text>
</svg>
</body></html>
